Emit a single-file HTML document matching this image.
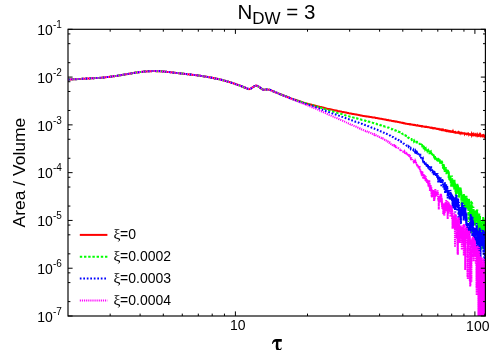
<!DOCTYPE html>
<html><head><meta charset="utf-8"><title>N_DW = 3</title>
<style>
html,body{margin:0;padding:0;background:#fff;}
body{width:500px;height:350px;overflow:hidden;}
svg{display:block;will-change:transform;}
text{font-family:"Liberation Sans",sans-serif;fill:#000;}
.t13{font-size:14px;}
.sy{font-family:'Liberation Serif',serif;font-size:15.5px;}
.c{fill:none;stroke-width:2;stroke-linejoin:miter;stroke-miterlimit:4;}
</style></head><body>
<svg width="500" height="350" viewBox="0 0 500 350">
<rect width="500" height="350" fill="#fff"/>
<defs><clipPath id="cp"><rect x="68.0" y="29.3" width="417.4" height="286.7"/></clipPath></defs>
<g clip-path="url(#cp)">
<path class="c" d="M68.0,79.4 L70.6,79.4 L73.1,79.3 L75.5,79.2 L77.9,79.1 L80.3,78.9 L82.5,78.8 L84.8,78.7 L87.0,78.6 L89.1,78.5 L91.2,78.3 L93.3,78.2 L95.3,78.1 L97.3,78.0 L99.2,77.9 L101.1,77.8 L103.0,77.6 L104.8,77.4 L106.6,77.1 L108.4,76.9 L110.2,76.7 L111.9,76.5 L113.6,76.3 L115.2,76.1 L116.9,75.9 L118.5,75.6 L120.1,75.3 L121.7,75.0 L123.2,74.7 L124.7,74.5 L126.2,74.2 L127.7,73.9 L129.1,73.7 L130.6,73.4 L132.0,73.2 L133.4,73.0 L134.8,72.8 L136.1,72.6 L137.5,72.4 L138.8,72.3 L140.1,72.1 L141.4,71.9 L142.7,71.7 L143.9,71.5 L145.2,71.4 L146.4,71.4 L147.6,71.3 L148.8,71.3 L150.0,71.2 L151.2,71.2 L152.3,71.1 L153.5,71.1 L154.6,71.1 L155.8,71.2 L156.9,71.2 L158.0,71.2 L159.1,71.2 L160.1,71.2 L161.2,71.2 L162.3,71.4 L163.3,71.5 L164.3,71.6 L165.4,71.7 L166.4,71.8 L167.4,71.9 L168.4,72.0 L169.4,72.1 L170.3,72.2 L171.3,72.3 L172.3,72.4 L173.2,72.5 L174.2,72.7 L175.1,72.8 L176.0,72.9 L176.9,73.0 L177.8,73.1 L178.7,73.2 L179.6,73.3 L180.5,73.4 L181.4,73.5 L182.3,73.6 L183.1,73.7 L184.0,73.8 L184.8,73.9 L185.7,74.0 L186.5,74.1 L187.3,74.2 L188.2,74.3 L189.0,74.4 L189.8,74.5 L190.6,74.6 L191.4,74.7 L192.2,74.8 L193.0,74.9 L193.7,75.0 L194.5,75.1 L195.3,75.1 L196.1,75.2 L196.8,75.3 L197.6,75.4 L198.3,75.5 L199.0,75.6 L199.8,75.7 L200.5,75.8 L201.2,75.9 L202.0,76.0 L202.7,76.2 L203.4,76.3 L204.1,76.4 L204.8,76.5 L205.5,76.6 L206.2,76.7 L206.9,76.8 L207.5,77.0 L208.2,77.1 L208.9,77.2 L209.6,77.3 L210.2,77.4 L210.9,77.6 L211.5,77.7 L212.2,77.8 L212.8,78.0 L213.5,78.1 L214.1,78.2 L214.8,78.3 L215.4,78.5 L216.0,78.6 L216.6,78.7 L217.3,78.8 L217.9,79.0 L218.5,79.1 L219.1,79.2 L219.7,79.3 L220.3,79.5 L220.9,79.6 L221.5,79.8 L222.1,80.0 L222.7,80.2 L223.3,80.3 L223.9,80.5 L224.4,80.6 L225.0,80.8 L225.6,81.0 L226.2,81.1 L226.7,81.3 L227.3,81.4 L227.9,81.6 L228.4,81.7 L229.0,81.9 L229.5,82.1 L230.1,82.2 L230.6,82.4 L231.2,82.6 L231.7,82.8 L232.2,82.9 L232.8,83.1 L233.3,83.3 L233.8,83.5 L234.4,83.7 L234.9,83.8 L235.4,84.0 L237.5,84.7 L239.5,85.4 L241.5,86.2 L243.4,87.0 L245.3,87.7 L247.2,88.6 L249.0,89.1 L250.8,88.6 L252.6,87.3 L254.4,86.1 L256.1,85.5 L257.8,86.1 L259.4,87.1 L261.1,88.4 L262.7,89.6 L264.3,89.7 L265.8,89.5 L267.4,89.5 L268.9,89.7 L270.4,90.0 L271.9,90.7 L273.3,91.3 L274.8,92.0 L276.2,92.6 L277.6,93.1 L279.0,93.7 L280.3,94.3 L281.7,94.8 L283.0,95.3 L284.3,95.8 L285.6,96.3 L286.9,96.8 L288.1,97.2 L289.4,97.7 L290.6,98.2 L291.8,98.6 L293.0,99.1 L294.2,99.5 L295.4,99.8 L296.5,100.3 L297.7,100.6 L298.8,101.0 L300.0,101.4 L301.1,101.8 L302.2,102.2 L303.3,102.5 L304.3,102.9 L305.4,103.2 L306.5,103.4 L307.5,103.7 L308.5,104.0 L309.6,104.3 L310.6,104.5 L311.6,104.8 L312.6,105.1 L313.6,105.3 L314.5,105.6 L315.5,105.8 L316.5,106.0 L317.4,106.3 L318.4,106.5 L319.3,106.7 L320.2,106.9 L321.1,107.1 L322.0,107.3 L322.9,107.6 L323.8,107.8 L324.7,108.0 L325.6,108.3 L326.5,108.5 L327.3,108.7 L328.2,108.9 L329.0,109.0 L329.9,109.2 L330.7,109.3 L331.5,109.5 L332.4,109.7 L333.2,109.9 L334.0,110.1 L334.8,110.3 L335.6,110.5 L336.4,110.6 L337.2,110.8 L337.9,111.0 L338.7,111.2 L339.5,111.3 L340.2,111.5 L341.0,111.6 L341.8,111.8 L342.5,111.9 L343.2,112.0 L344.0,112.2 L344.7,112.3 L345.4,112.5 L346.1,112.6 L346.9,112.8 L347.6,113.0 L348.3,113.1 L349.0,113.3 L349.7,113.4 L350.0,113.5 L350.4,113.5 L350.7,113.6 L351.1,113.6 L351.4,113.7 L351.7,113.8 L352.1,113.8 L352.4,113.9 L352.7,113.9 L353.1,114.0 L353.4,114.1 L353.8,114.1 L354.1,114.2 L354.4,114.2 L354.7,114.3 L355.1,114.3 L355.4,114.4 L355.7,114.5 L356.1,114.5 L356.4,114.6 L356.7,114.6 L357.0,114.7 L357.4,114.7 L357.7,114.8 L358.0,114.8 L358.3,114.9 L358.6,115.0 L359.0,115.1 L359.3,115.1 L359.6,115.2 L359.9,115.2 L360.2,115.3 L360.5,115.4 L360.8,115.4 L361.2,115.5 L361.5,115.5 L361.8,115.6 L362.1,115.7 L362.4,115.8 L362.7,115.8 L363.0,115.9 L363.3,115.9 L363.6,115.9 L363.9,116.0 L364.2,116.0 L364.5,116.1 L364.8,116.2 L365.1,116.2 L365.4,116.3 L365.7,116.3 L366.0,116.4 L366.3,116.3 L366.6,116.4 L366.9,116.4 L367.2,116.5 L367.5,116.6 L367.8,116.6 L368.1,116.6 L368.3,116.7 L368.6,116.7 L368.9,116.8 L369.2,116.8 L369.5,116.8 L369.8,116.9 L370.1,116.9 L370.4,117.0 L370.6,117.0 L370.9,117.1 L371.2,117.1 L371.5,117.2 L371.8,117.2 L372.0,117.3 L372.3,117.3 L372.6,117.4 L372.9,117.4 L373.2,117.5 L373.4,117.5 L373.7,117.5 L374.0,117.5 L374.3,117.6 L374.5,117.6 L374.8,117.6 L375.1,117.7 L375.4,117.8 L375.6,117.9 L375.9,117.9 L376.2,118.0 L376.4,118.0 L376.7,118.1 L377.0,118.1 L377.2,118.1 L377.5,118.2 L377.8,118.2 L378.0,118.3 L378.3,118.3 L378.6,118.4 L378.8,118.4 L379.1,118.5 L379.3,118.6 L379.6,118.6 L379.9,118.7 L380.1,118.7 L380.4,118.8 L380.6,118.8 L380.9,118.8 L381.1,118.8 L381.4,118.8 L381.7,118.9 L381.9,119.0 L382.2,119.0 L382.4,119.0 L382.7,119.1 L382.9,119.2 L383.2,119.2 L383.4,119.3 L383.7,119.3 L383.9,119.3 L384.2,119.4 L384.4,119.4 L384.7,119.4 L384.9,119.5 L385.2,119.5 L385.4,119.5 L385.7,119.7 L385.9,119.7 L386.1,119.7 L386.4,119.8 L386.6,119.9 L386.9,119.9 L387.1,119.9 L387.4,119.9 L387.6,119.9 L387.8,120.1 L388.1,120.0 L388.3,120.2 L388.6,120.2 L388.8,120.2 L389.0,120.3 L389.3,120.4 L389.5,120.4 L389.7,120.5 L390.0,120.5 L390.2,120.5 L390.5,120.5 L390.7,120.6 L390.9,120.6 L391.2,120.7 L391.4,120.7 L391.6,120.8 L391.8,120.9 L392.1,120.9 L392.3,121.0 L392.5,121.0 L392.8,121.0 L393.0,121.1 L393.2,121.0 L393.5,121.1 L393.7,121.1 L393.9,121.1 L394.1,121.2 L394.4,121.2 L394.6,121.3 L394.8,121.4 L395.0,121.4 L395.3,121.5 L395.5,121.6 L395.7,121.5 L395.9,121.6 L396.1,121.6 L396.4,121.6 L396.6,121.6 L396.8,121.7 L397.0,121.7 L397.3,121.8 L397.5,121.8 L397.7,121.9 L397.9,121.9 L398.1,122.0 L398.3,122.1 L398.6,122.1 L398.8,122.1 L399.0,122.2 L399.2,122.3 L399.4,122.2 L399.6,122.2 L399.9,122.3 L400.1,122.3 L400.3,122.4 L400.5,122.4 L400.7,122.4 L400.9,122.5 L401.1,122.5 L401.3,122.6 L401.6,122.7 L401.8,122.8 L402.0,122.8 L402.2,122.9 L402.4,122.8 L402.6,122.9 L402.8,122.9 L403.0,122.9 L403.2,123.1 L403.4,123.1 L403.6,123.0 L403.8,123.2 L404.0,123.1 L404.3,123.3 L404.5,123.3 L404.7,123.4 L404.9,123.4 L405.1,123.5 L405.3,123.5 L405.5,123.5 L405.7,123.7 L405.9,123.7 L406.1,123.7 L406.3,123.7 L406.5,123.8 L406.7,123.8 L406.9,123.8 L407.1,123.9 L407.3,124.0 L407.5,123.9 L407.7,123.9 L407.9,124.0 L408.1,124.1 L408.3,124.1 L408.5,124.1 L408.7,124.1 L408.9,124.2 L409.1,124.1 L409.3,124.2 L409.5,124.2 L409.6,124.3 L409.8,124.4 L410.0,124.4 L410.2,124.3 L410.4,124.3 L410.6,124.4 L410.8,124.3 L411.0,124.4 L411.2,124.4 L411.4,124.4 L411.6,124.5 L411.8,124.6 L412.0,124.7 L412.2,124.8 L412.3,124.8 L412.5,124.7 L412.7,124.8 L412.9,124.8 L413.1,124.7 L413.3,124.8 L413.5,124.9 L413.7,124.9 L413.8,125.0 L414.0,125.0 L414.2,125.0 L414.4,124.9 L414.6,125.0 L414.8,125.0 L415.0,125.0 L415.2,125.0 L415.3,125.2 L415.5,125.2 L415.7,125.2 L415.9,125.2 L416.1,125.3 L416.3,125.4 L416.4,125.4 L416.6,125.4 L416.8,125.5 L417.0,125.6 L417.2,125.4 L417.3,125.5 L417.5,125.5 L417.7,125.4 L417.9,125.5 L418.1,125.5 L418.2,125.6 L418.4,125.7 L418.6,125.7 L418.8,125.7 L419.0,125.8 L419.1,125.8 L419.3,125.9 L419.5,125.8 L419.7,125.8 L419.8,126.0 L420.0,126.0 L420.2,126.0 L420.4,126.0 L420.5,126.0 L420.7,126.1 L420.9,126.1 L421.1,126.1 L421.2,126.2 L421.4,126.1 L421.6,126.1 L421.8,126.2 L421.9,126.3 L422.1,126.2 L422.3,126.4 L422.5,126.3 L422.6,126.4 L422.8,126.3 L423.0,126.4 L423.1,126.5 L423.3,126.5 L423.5,126.5 L423.7,126.5 L423.8,126.6 L424.0,126.6 L424.2,126.7 L424.3,126.7 L424.5,126.7 L424.7,126.8 L424.8,126.7 L425.0,126.6 L425.2,126.8 L425.3,126.8 L425.5,126.8 L425.7,126.9 L425.9,126.9 L426.0,126.9 L426.2,127.0 L426.3,127.0 L426.5,126.8 L426.7,126.9 L426.8,126.9 L427.0,127.0 L427.2,127.0 L427.3,127.1 L427.5,127.2 L427.7,127.3 L427.8,127.3 L428.0,127.2 L428.2,127.3 L428.3,127.3 L428.5,127.3 L428.6,127.3 L428.8,127.2 L429.0,127.3 L429.1,127.3 L429.3,127.4 L429.5,127.5 L429.6,127.5 L429.8,127.6 L429.9,127.6 L430.1,127.6 L430.3,127.7 L430.4,127.8 L430.6,127.7 L430.7,127.7 L430.9,127.8 L431.1,127.8 L431.2,127.7 L431.4,127.8 L431.5,127.8 L431.7,127.9 L431.8,127.9 L432.0,127.8 L432.2,128.0 L432.3,127.9 L432.5,127.9 L432.6,128.0 L432.8,128.0 L432.9,128.1 L433.1,128.2 L433.2,128.2 L433.4,128.3 L433.6,128.2 L433.7,128.3 L433.9,128.2 L434.0,128.3 L434.2,128.2 L434.3,128.2 L434.5,128.3 L434.6,128.2 L434.8,128.3 L434.9,128.4 L435.1,128.3 L435.2,128.4 L435.4,128.6 L435.6,128.6 L435.7,128.6 L435.9,128.6 L436.0,128.6 L436.2,128.7 L436.3,128.7 L436.5,128.7 L436.6,128.8 L436.8,128.8 L436.9,128.9 L437.1,128.8 L437.2,128.8 L437.4,128.8 L437.5,128.9 L437.7,128.9 L437.8,129.0 L438.0,129.0 L438.1,129.0 L438.2,129.1 L438.4,129.1 L438.5,129.1 L438.7,129.1 L438.8,129.2 L439.0,129.0 L439.1,129.1 L439.3,129.3 L439.4,129.3 L439.6,129.3 L439.7,129.5 L439.9,129.4 L440.0,129.5 L440.2,129.5 L440.3,129.5 L440.4,129.6 L440.6,129.5 L440.7,129.5 L440.9,129.5 L441.0,129.4 L441.2,129.6 L441.3,129.7 L441.5,129.6 L441.6,129.7 L441.7,129.8 L441.9,130.0 L442.0,129.9 L442.2,129.9 L442.3,129.8 L442.5,129.8 L442.6,129.9 L442.7,129.7 L442.9,129.9 L443.0,130.0 L443.2,130.0 L443.3,130.0 L443.4,130.1 L443.6,130.2 L443.7,130.0 L443.9,130.2 L444.0,130.3 L444.1,130.2 L444.3,130.2 L444.4,130.3 L444.6,130.4 L444.7,130.5 L444.8,130.5 L445.0,130.5 L445.1,130.5 L445.3,130.4 L445.4,130.5 L445.5,130.4 L445.7,130.5 L445.8,130.4 L445.9,130.5 L446.1,130.5 L446.2,130.7 L446.4,130.6 L446.5,130.8 L446.6,130.7 L446.8,130.8 L446.9,130.7 L447.0,130.8 L447.2,130.9 L447.3,130.8 L447.4,130.9 L447.6,130.8 L447.7,130.9 L447.9,130.8 L448.0,130.9 L448.1,131.1 L448.3,131.0 L448.4,131.2 L448.5,131.2 L448.7,131.1 L448.8,131.1 L448.9,131.1 L449.1,131.1 L449.2,131.3 L449.3,131.2 L449.5,131.1 L449.6,131.3 L449.7,131.3 L449.9,131.2 L450.0,131.3 L450.1,131.4 L450.3,131.4 L450.4,131.3 L450.5,131.4 L450.6,131.4 L450.8,131.4 L450.9,131.5 L451.0,131.7 L451.2,131.6 L451.3,131.7 L451.4,131.6 L451.6,131.5 L451.7,131.6 L451.8,131.7 L452.0,131.7 L452.1,131.6 L452.2,131.8 L452.3,131.9 L452.5,131.8 L452.6,131.9 L452.7,131.9 L452.9,131.9 L453.0,131.6 L453.1,131.9 L453.2,131.9 L453.4,132.0 L453.5,131.9 L453.6,132.0 L453.8,132.2 L453.9,132.1 L454.0,132.2 L454.1,132.1 L454.3,132.2 L454.4,132.2 L454.5,132.2 L454.6,132.3 L454.8,132.2 L454.9,132.1 L455.0,132.1 L455.1,132.1 L455.3,132.3 L455.4,132.2 L455.5,132.4 L455.6,132.3 L455.8,132.5 L455.9,132.5 L456.0,132.5 L456.1,132.7 L456.3,132.7 L456.4,132.7 L456.5,132.7 L456.6,132.7 L456.8,132.5 L456.9,132.5 L457.0,132.5 L457.1,132.5 L457.3,132.5 L457.4,132.7 L457.5,132.7 L457.6,132.7 L457.8,132.5 L457.9,132.6 L458.0,132.5 L458.1,132.8 L458.2,132.8 L458.4,132.7 L458.5,132.5 L458.6,132.7 L458.7,132.8 L458.9,133.0 L459.0,132.7 L459.1,132.8 L459.2,132.7 L459.3,132.9 L459.5,132.7 L459.6,132.7 L459.7,133.0 L459.8,132.9 L459.9,132.8 L460.1,132.8 L460.2,133.0 L460.3,133.0 L460.4,133.0 L460.5,133.1 L460.7,133.1 L460.8,133.3 L460.9,133.1 L461.0,133.0 L461.1,133.1 L461.3,132.9 L461.4,132.9 L461.5,132.9 L461.6,133.0 L461.7,132.9 L461.8,133.0 L462.0,133.1 L462.1,133.2 L462.2,133.1 L462.3,133.2 L462.4,133.3 L462.5,133.2 L462.7,133.2 L462.8,133.3 L462.9,133.3 L463.0,133.3 L463.1,133.3 L463.2,133.3 L463.4,133.2 L463.5,133.2 L463.6,133.2 L463.7,133.3 L463.8,133.3 L463.9,133.4 L464.1,133.5 L464.2,133.6 L464.3,133.6 L464.4,133.8 L464.5,133.5 L464.6,133.6 L464.8,133.8 L464.9,133.9 L465.0,133.8 L465.1,133.8 L465.2,133.7 L465.3,133.7 L465.4,133.6 L465.5,133.6 L465.7,133.6 L465.8,133.7 L465.9,133.8 L466.0,133.9 L466.1,134.0 L466.2,134.0 L466.3,133.9 L466.5,133.9 L466.6,134.1 L466.7,134.0 L466.8,134.0 L466.9,133.9 L467.0,133.8 L467.1,134.0 L467.2,134.0 L467.4,134.1 L467.5,134.1 L467.6,134.2 L467.7,134.2 L467.8,134.1 L467.9,134.1 L468.0,134.2 L468.1,134.3 L468.2,134.3 L468.4,134.2 L468.5,134.2 L468.6,134.3 L468.7,133.9 L468.8,134.0 L468.9,134.3 L469.0,134.1 L469.1,134.2 L469.2,134.2 L469.3,134.4 L469.5,134.4 L469.6,134.4 L469.7,134.4 L469.8,134.3 L469.9,134.3 L470.0,134.4 L470.1,134.5 L470.2,134.4 L470.3,134.5 L470.4,134.4 L470.5,134.4 L470.7,134.5 L470.8,134.4 L470.9,134.4 L471.0,134.7 L471.1,134.7 L471.2,134.6 L471.3,134.7 L471.4,134.5 L471.5,134.5 L471.6,134.8 L471.7,134.4 L471.8,134.7 L471.9,134.6 L472.1,134.5 L472.2,134.6 L472.3,134.5 L472.4,134.7 L472.5,134.8 L472.6,134.7 L472.7,134.8 L472.8,134.7 L472.9,134.7 L473.0,134.7 L473.1,134.5 L473.2,134.7 L473.3,134.5 L473.4,134.8 L473.5,134.9 L473.6,134.8 L473.8,134.7 L473.9,134.8 L474.0,134.8 L474.1,134.9 L474.2,134.8 L474.3,134.9 L474.4,134.9 L474.5,134.7 L474.6,134.7 L474.7,134.9 L474.8,134.8 L474.9,134.8 L475.0,134.6 L475.1,134.8 L475.2,134.9 L475.3,135.0 L475.4,135.0 L475.5,135.1 L475.6,134.9 L475.7,134.8 L475.8,135.0 L475.9,134.8 L476.0,134.8 L476.1,135.1 L476.2,135.0 L476.3,135.0 L476.5,135.2 L476.6,135.4 L476.7,135.4 L476.8,135.2 L476.9,135.2 L477.0,135.3 L477.1,135.0 L477.2,135.3 L477.3,135.1 L477.4,135.4 L477.5,135.5 L477.6,135.6 L477.7,135.5 L477.8,135.2 L477.9,135.3 L478.0,135.3 L478.1,135.1 L478.2,135.2 L478.3,135.3 L478.4,135.2 L478.5,135.2 L478.6,135.4 L478.7,135.3 L478.8,135.4 L478.9,135.5 L479.0,135.3 L479.1,135.5 L479.2,135.4 L479.3,135.5 L479.4,135.5 L479.5,135.5 L479.6,135.5 L479.7,135.2 L479.8,135.5 L479.9,135.5 L480.0,135.5 L480.1,135.5 L480.2,135.5 L480.3,135.7 L480.4,135.8 L480.5,136.0 L480.6,135.9 L480.7,135.5 L480.8,135.8 L480.9,135.8 L481.0,135.8 L481.1,135.6 L481.2,135.4 L481.3,135.4 L481.4,135.4 L481.5,135.4 L481.6,135.4 L481.6,135.4 L481.7,135.8 L481.8,135.8 L481.9,135.9 L482.0,135.8 L482.1,136.0 L482.2,136.0 L482.3,135.9 L482.4,136.2 L482.5,136.1 L482.6,136.0 L482.7,135.9 L482.8,135.9 L482.9,135.9 L483.0,135.9 L483.1,135.8 L483.2,135.9 L483.3,135.7 L483.4,135.9 L483.5,135.9 L483.6,136.0 L483.7,136.1 L483.8,135.9 L483.9,136.1 L484.0,136.1 L484.1,136.1 L484.2,135.9 L484.2,136.1 L484.3,136.1 L484.4,136.4 L484.5,136.4 L484.6,136.3 L484.7,135.9 L484.8,136.3 L484.9,136.1 L485.0,136.2 L485.1,136.0 L485.2,136.1 L485.3,136.2" stroke="#f00"/>
<path class="c" d="M68.0,79.4 L70.6,79.4 L73.1,79.3 L75.5,79.2 L77.9,79.1 L80.3,78.9 L82.5,78.8 L84.8,78.7 L87.0,78.6 L89.1,78.5 L91.2,78.3 L93.3,78.2 L95.3,78.1 L97.3,78.0 L99.2,77.9 L101.1,77.7 L103.0,77.6 L104.8,77.4 L106.6,77.1 L108.4,76.9 L110.2,76.7 L111.9,76.5 L113.6,76.3 L115.2,76.1 L116.9,75.8 L118.5,75.6 L120.1,75.3 L121.7,75.0 L123.2,74.7 L124.7,74.5 L126.2,74.2 L127.7,73.9 L129.1,73.7 L130.6,73.4 L132.0,73.2 L133.4,73.0 L134.8,72.8 L136.1,72.6 L137.5,72.5 L138.8,72.3 L140.1,72.1 L141.4,71.9 L142.7,71.7 L143.9,71.5 L145.2,71.4 L146.4,71.4 L147.6,71.3 L148.8,71.3 L150.0,71.2 L151.2,71.2 L152.3,71.1 L153.5,71.1 L154.6,71.1 L155.8,71.1 L156.9,71.2 L158.0,71.2 L159.1,71.2 L160.1,71.2 L161.2,71.3 L162.3,71.4 L163.3,71.5 L164.3,71.6 L165.4,71.7 L166.4,71.8 L167.4,71.9 L168.4,72.0 L169.4,72.1 L170.3,72.2 L171.3,72.3 L172.3,72.5 L173.2,72.5 L174.2,72.7 L175.1,72.8 L176.0,72.9 L176.9,73.0 L177.8,73.1 L178.7,73.2 L179.6,73.3 L180.5,73.4 L181.4,73.5 L182.3,73.6 L183.1,73.7 L184.0,73.8 L184.8,73.9 L185.7,74.0 L186.5,74.1 L187.3,74.2 L188.2,74.3 L189.0,74.4 L189.8,74.5 L190.6,74.6 L191.4,74.7 L192.2,74.8 L193.0,74.9 L193.7,75.0 L194.5,75.1 L195.3,75.1 L196.1,75.2 L196.8,75.3 L197.6,75.4 L198.3,75.5 L199.0,75.6 L199.8,75.7 L200.5,75.8 L201.2,75.9 L202.0,76.0 L202.7,76.1 L203.4,76.3 L204.1,76.4 L204.8,76.5 L205.5,76.7 L206.2,76.8 L206.9,76.9 L207.5,77.0 L208.2,77.1 L208.9,77.2 L209.6,77.3 L210.2,77.4 L210.9,77.6 L211.5,77.7 L212.2,77.8 L212.8,78.0 L213.5,78.1 L214.1,78.3 L214.8,78.4 L215.4,78.5 L216.0,78.6 L216.6,78.7 L217.3,78.9 L217.9,79.0 L218.5,79.1 L219.1,79.2 L219.7,79.4 L220.3,79.5 L220.9,79.6 L221.5,79.8 L222.1,80.0 L222.7,80.1 L223.3,80.3 L223.9,80.5 L224.4,80.6 L225.0,80.8 L225.6,81.0 L226.2,81.1 L226.7,81.3 L227.3,81.4 L227.9,81.6 L228.4,81.7 L229.0,82.0 L229.5,82.1 L230.1,82.3 L230.6,82.4 L231.2,82.6 L231.7,82.8 L232.2,83.0 L232.8,83.2 L233.3,83.3 L233.8,83.5 L234.4,83.7 L234.9,83.9 L235.4,84.0 L237.5,84.7 L239.5,85.4 L241.5,86.2 L243.4,87.0 L245.3,87.7 L247.2,88.6 L249.0,89.1 L250.8,88.6 L252.6,87.3 L254.4,86.1 L256.1,85.5 L257.8,86.1 L259.4,87.2 L261.1,88.4 L262.7,89.6 L264.3,89.7 L265.8,89.5 L267.4,89.4 L268.9,89.6 L270.4,90.0 L271.9,90.7 L273.3,91.3 L274.8,91.9 L276.2,92.6 L277.6,93.2 L279.0,93.8 L280.3,94.3 L281.7,94.8 L283.0,95.3 L284.3,95.8 L285.6,96.3 L286.9,96.8 L288.1,97.3 L289.4,97.8 L290.6,98.3 L291.8,98.7 L293.0,99.2 L294.2,99.6 L295.4,100.0 L296.5,100.4 L297.7,100.8 L298.8,101.2 L300.0,101.5 L301.1,101.9 L302.2,102.2 L303.3,102.6 L304.3,102.9 L305.4,103.2 L306.5,103.6 L307.5,103.9 L308.5,104.2 L309.6,104.5 L310.6,104.7 L311.6,105.0 L312.6,105.3 L313.6,105.5 L314.5,105.8 L315.5,106.0 L316.5,106.3 L317.4,106.6 L318.4,106.9 L319.3,107.1 L320.2,107.4 L321.1,107.8 L322.0,108.1 L322.9,108.4 L323.8,108.7 L324.7,109.0 L325.6,109.2 L326.5,109.6 L327.3,109.8 L328.2,110.0 L329.0,110.3 L329.9,110.5 L330.7,110.8 L331.5,111.1 L332.4,111.3 L333.2,111.6 L334.0,111.8 L334.8,112.1 L335.6,112.4 L336.4,112.6 L337.2,112.9 L337.9,113.1 L338.7,113.3 L339.5,113.5 L340.2,113.7 L341.0,113.9 L341.8,114.1 L342.5,114.3 L343.2,114.6 L344.0,114.8 L344.7,115.1 L345.4,115.3 L346.1,115.5 L346.9,115.7 L347.6,115.9 L348.3,116.1 L349.0,116.4 L349.7,116.5 L350.0,116.6 L350.4,116.8 L350.7,116.8 L351.1,116.9 L351.4,117.0 L351.7,117.1 L352.1,117.1 L352.4,117.3 L352.7,117.3 L353.1,117.4 L353.4,117.5 L353.8,117.6 L354.1,117.7 L354.4,117.9 L354.7,117.9 L355.1,118.0 L355.4,118.0 L355.7,118.2 L356.1,118.3 L356.4,118.3 L356.7,118.5 L357.0,118.4 L357.4,118.5 L357.7,118.7 L358.0,118.7 L358.3,118.8 L358.6,118.9 L359.0,119.0 L359.3,119.1 L359.6,119.1 L359.9,119.2 L360.2,119.2 L360.5,119.4 L360.8,119.6 L361.2,119.6 L361.5,119.7 L361.8,119.7 L362.1,119.9 L362.4,119.9 L362.7,119.9 L363.0,120.0 L363.3,120.0 L363.6,120.1 L363.9,120.2 L364.2,120.3 L364.5,120.5 L364.8,120.6 L365.1,120.6 L365.4,120.8 L365.7,120.9 L366.0,120.9 L366.3,121.1 L366.6,121.0 L366.9,121.0 L367.2,121.2 L367.5,121.3 L367.8,121.3 L368.1,121.4 L368.3,121.6 L368.6,121.7 L368.9,121.6 L369.2,121.7 L369.5,121.8 L369.8,121.9 L370.1,122.1 L370.4,122.1 L370.6,122.2 L370.9,122.3 L371.2,122.5 L371.5,122.6 L371.8,122.7 L372.0,122.7 L372.3,122.7 L372.6,122.8 L372.9,122.9 L373.2,123.0 L373.4,123.1 L373.7,123.0 L374.0,123.1 L374.3,123.3 L374.5,123.3 L374.8,123.3 L375.1,123.5 L375.4,123.5 L375.6,123.5 L375.9,123.6 L376.2,123.7 L376.4,123.8 L376.7,123.9 L377.0,124.2 L377.2,124.1 L377.5,124.2 L377.8,124.3 L378.0,124.3 L378.3,124.5 L378.6,124.6 L378.8,124.7 L379.1,124.7 L379.3,124.8 L379.6,124.9 L379.9,125.1 L380.1,125.0 L380.4,125.2 L380.6,125.2 L380.9,125.2 L381.1,125.4 L381.4,125.4 L381.7,125.5 L381.9,125.6 L382.2,125.7 L382.4,125.8 L382.7,125.9 L382.9,125.9 L383.2,126.0 L383.4,126.2 L383.7,126.1 L383.9,126.2 L384.2,126.2 L384.4,126.3 L384.7,126.4 L384.9,126.6 L385.2,126.7 L385.4,126.7 L385.7,126.7 L385.9,126.9 L386.1,126.9 L386.4,127.1 L386.6,127.1 L386.9,127.3 L387.1,127.3 L387.4,127.4 L387.6,127.4 L387.8,127.5 L388.1,127.5 L388.3,127.5 L388.6,127.5 L388.8,127.7 L389.0,127.8 L389.3,127.9 L389.5,128.0 L389.7,128.1 L390.0,128.2 L390.2,128.4 L390.5,128.5 L390.7,128.6 L390.9,128.6 L391.2,128.7 L391.4,128.8 L391.6,129.1 L391.8,129.0 L392.1,129.0 L392.3,129.1 L392.5,129.2 L392.8,129.2 L393.0,129.3 L393.2,129.4 L393.5,129.5 L393.7,129.6 L393.9,129.7 L394.1,129.7 L394.4,130.0 L394.6,130.1 L394.8,130.1 L395.0,130.4 L395.3,130.3 L395.5,130.4 L395.7,130.6 L395.9,130.6 L396.1,130.7 L396.4,130.8 L396.6,130.9 L396.8,131.0 L397.0,131.0 L397.3,131.0 L397.5,131.3 L397.7,131.3 L397.9,131.4 L398.1,131.4 L398.3,131.7 L398.6,131.6 L398.8,131.8 L399.0,131.9 L399.2,131.9 L399.4,132.0 L399.6,132.1 L399.9,132.1 L400.1,132.3 L400.3,132.2 L400.5,132.3 L400.7,132.6 L400.9,132.7 L401.1,133.0 L401.3,132.9 L401.6,132.9 L401.8,133.3 L402.0,133.5 L402.2,133.5 L402.4,133.7 L402.6,133.7 L402.8,134.1 L403.0,134.2 L403.2,134.3 L403.4,134.2 L403.6,134.2 L403.8,134.3 L404.0,134.4 L404.3,134.7 L404.5,134.8 L404.7,134.9 L404.9,135.2 L405.1,135.4 L405.3,135.2 L405.5,135.3 L405.7,135.4 L405.9,135.8 L406.1,136.0 L406.3,136.1 L406.5,136.0 L406.7,136.2 L406.9,136.6 L407.1,136.4 L407.3,136.8 L407.5,136.9 L407.7,137.1 L407.9,137.4 L408.1,137.5 L408.3,137.6 L408.5,137.9 L408.7,137.8 L408.9,137.8 L409.1,138.1 L409.3,138.2 L409.5,138.4 L409.6,138.6 L409.8,138.7 L410.0,138.6 L410.2,138.7 L410.4,138.6 L410.6,138.6 L410.8,138.9 L411.0,138.9 L411.2,139.1 L411.4,139.3 L411.6,139.7 L411.8,139.5 L412.0,139.8 L412.2,139.7 L412.3,139.8 L412.5,139.7 L412.7,139.6 L412.9,139.6 L413.1,139.7 L413.3,139.8 L413.5,140.2 L413.7,140.5 L413.8,140.4 L414.0,141.2 L414.2,140.9 L414.4,140.9 L414.6,141.1 L414.8,140.8 L415.0,140.9 L415.2,140.8 L415.3,140.9 L415.5,141.4 L415.7,141.2 L415.9,141.2 L416.1,141.6 L416.3,142.0 L416.4,141.9 L416.6,142.1 L416.8,142.3 L417.0,142.4 L417.2,142.4 L417.3,142.3 L417.5,142.8 L417.7,143.0 L417.9,142.9 L418.1,142.9 L418.2,142.9 L418.4,142.8 L418.6,143.1 L418.8,142.9 L419.0,143.2 L419.1,143.3 L419.3,143.6 L419.5,143.7 L419.7,143.7 L419.8,144.1 L420.0,144.2 L420.2,144.4 L420.4,144.6 L420.5,144.9 L420.7,145.2 L420.9,145.4 L421.1,145.2 L421.2,145.3 L421.4,145.5 L421.6,145.1 L421.8,145.4 L421.9,145.5 L421.9,145.5 L422.0,145.5 L422.1,145.8 L422.2,145.7 L422.3,146.1 L422.4,146.5 L422.5,146.1 L422.5,146.2 L422.6,146.5 L422.7,146.5 L422.8,146.9 L422.9,146.6 L423.0,146.8 L423.1,146.8 L423.1,146.7 L423.2,147.5 L423.3,146.8 L423.4,147.2 L423.5,147.0 L423.6,147.2 L423.7,147.2 L423.7,147.3 L423.8,147.8 L423.9,147.3 L424.0,147.7 L424.1,147.6 L424.2,147.8 L424.3,147.9 L424.3,148.0 L424.4,148.2 L424.5,147.9 L424.6,148.1 L424.7,147.7 L424.8,148.2 L424.8,148.9 L424.9,148.5 L425.0,148.4 L425.1,148.5 L425.2,148.1 L425.3,148.9 L425.3,148.9 L425.4,148.7 L425.5,148.8 L425.6,148.5 L425.7,148.4 L425.8,148.9 L425.9,149.1 L425.9,149.3 L426.0,149.4 L426.1,149.7 L426.2,149.6 L426.3,149.6 L426.3,149.8 L426.4,149.7 L426.5,149.9 L426.6,149.7 L426.7,149.9 L426.8,150.3 L426.8,150.4 L426.9,150.0 L427.0,150.4 L427.1,150.5 L427.2,150.4 L427.3,150.6 L427.3,150.4 L427.4,150.8 L427.5,150.6 L427.6,150.5 L427.7,150.5 L427.7,150.7 L427.8,150.8 L427.9,151.3 L428.0,151.7 L428.1,151.1 L428.2,151.1 L428.2,151.1 L428.3,151.1 L428.4,150.9 L428.5,151.2 L428.6,151.2 L428.6,151.8 L428.7,151.4 L428.8,151.7 L428.9,152.1 L429.0,152.0 L429.1,152.5 L429.1,152.9 L429.2,152.9 L429.3,152.4 L429.4,152.8 L429.5,152.9 L429.5,153.3 L429.6,153.3 L429.7,152.6 L429.8,153.1 L429.9,152.4 L429.9,153.1 L430.0,152.9 L430.1,152.3 L430.2,151.7 L430.3,151.7 L430.3,151.9 L430.4,151.9 L430.5,151.8 L430.6,152.0 L430.7,151.9 L430.7,152.0 L430.8,152.3 L430.9,152.9 L431.0,152.8 L431.1,153.1 L431.1,153.0 L431.2,153.3 L431.3,153.2 L431.4,153.9 L431.4,153.6 L431.5,153.3 L431.6,153.5 L431.7,153.9 L431.8,154.3 L431.8,153.9 L431.9,152.9 L432.0,153.7 L432.1,154.2 L432.2,155.2 L432.2,153.9 L432.3,153.6 L432.4,154.3 L432.5,153.7 L432.5,154.5 L432.6,154.6 L432.7,155.1 L432.8,154.5 L432.9,153.8 L432.9,154.6 L433.0,155.0 L433.1,155.7 L433.2,155.0 L433.2,154.0 L433.3,154.7 L433.4,155.9 L433.5,155.2 L433.6,155.0 L433.6,154.9 L433.7,155.1 L433.8,156.1 L433.9,155.6 L433.9,156.7 L434.0,156.9 L434.1,155.7 L434.2,157.6 L434.3,157.8 L434.3,157.8 L434.4,157.3 L434.5,158.1 L434.6,156.8 L434.6,157.8 L434.7,157.6 L434.8,157.2 L434.9,156.8 L434.9,156.4 L435.0,156.0 L435.1,157.8 L435.2,158.3 L435.2,157.1 L435.3,157.7 L435.4,157.8 L435.5,159.8 L435.6,159.8 L435.6,158.8 L435.7,159.1 L435.8,158.0 L435.9,159.1 L435.9,160.3 L436.0,159.1 L436.1,159.1 L436.2,158.2 L436.2,159.0 L436.3,159.0 L436.4,159.5 L436.5,157.8 L436.5,159.6 L436.6,159.7 L436.7,159.4 L436.8,160.2 L436.8,158.9 L436.9,159.4 L437.0,160.2 L437.1,160.6 L437.1,160.0 L437.2,161.5 L437.3,161.2 L437.4,160.8 L437.4,161.1 L437.5,160.0 L437.6,160.4 L437.7,161.7 L437.7,160.0 L437.8,157.8 L437.9,159.5 L438.0,159.5 L438.0,161.3 L438.1,159.3 L438.2,158.4 L438.2,158.7 L438.3,158.7 L438.4,159.1 L438.5,160.0 L438.5,158.7 L438.6,159.6 L438.7,159.7 L438.8,161.5 L438.8,161.0 L438.9,160.2 L439.0,161.0 L439.1,160.3 L439.1,161.3 L439.2,159.7 L439.3,161.9 L439.4,161.4 L439.4,161.5 L439.5,161.8 L439.6,161.2 L439.6,160.7 L439.7,160.6 L439.8,159.2 L439.9,162.2 L439.9,161.5 L440.0,161.2 L440.1,163.6 L440.2,161.4 L440.2,163.5 L440.3,161.1 L440.4,162.0 L440.4,161.8 L440.5,162.7 L440.6,162.1 L440.7,162.8 L440.7,161.8 L440.8,162.0 L440.9,161.7 L441.0,160.7 L441.0,160.7 L441.1,162.0 L441.2,161.4 L441.2,162.8 L441.3,163.2 L441.4,162.9 L441.5,163.1 L441.5,162.5 L441.6,163.1 L441.7,163.7 L441.7,164.0 L441.8,163.7 L441.9,163.1 L442.0,163.4 L442.0,163.4 L442.1,162.3 L442.2,163.5 L442.2,163.4 L442.3,163.2 L442.4,163.9 L442.5,163.5 L442.5,164.4 L442.6,165.4 L442.7,165.9 L442.7,164.6 L442.8,166.1 L442.9,164.1 L442.9,165.9 L443.0,169.0 L443.1,166.8 L443.2,167.5 L443.2,166.6 L443.3,166.3 L443.4,167.6 L443.4,166.2 L443.5,166.9 L443.6,166.9 L443.7,164.9 L443.7,168.1 L443.8,166.7 L443.9,164.3 L443.9,165.2 L444.0,165.8 L444.1,165.6 L444.1,170.1 L444.2,166.6 L444.3,168.9 L444.4,167.3 L444.4,171.1 L444.5,170.6 L444.6,167.7 L444.6,169.2 L444.7,171.1 L444.8,171.1 L444.8,172.6 L444.9,169.0 L445.0,170.6 L445.0,169.7 L445.1,170.5 L445.2,169.9 L445.3,167.3 L445.3,169.2 L445.4,168.6 L445.5,170.0 L445.5,167.5 L445.6,168.5 L445.7,167.7 L445.7,167.2 L445.8,167.9 L445.9,169.0 L445.9,170.4 L446.0,170.2 L446.1,171.1 L446.2,170.3 L446.2,172.2 L446.3,170.7 L446.4,170.5 L446.4,174.2 L446.5,172.8 L446.6,170.4 L446.6,172.4 L446.7,171.2 L446.8,172.0 L446.8,171.4 L446.9,170.3 L447.0,171.4 L447.0,169.6 L447.1,173.6 L447.2,170.4 L447.2,171.2 L447.3,171.7 L447.4,172.7 L447.4,172.2 L447.5,171.9 L447.6,171.6 L447.7,169.7 L447.7,171.4 L447.8,170.0 L447.9,170.8 L447.9,172.6 L448.0,171.6 L448.1,172.9 L448.1,170.0 L448.2,171.8 L448.3,171.4 L448.3,172.0 L448.4,170.4 L448.5,171.6 L448.5,173.8 L448.6,174.1 L448.7,178.3 L448.7,176.5 L448.8,177.5 L448.9,172.3 L448.9,178.0 L449.0,176.0 L449.1,178.6 L449.1,175.9 L449.2,177.4 L449.3,176.2 L449.3,179.3 L449.4,179.4 L449.5,178.7 L449.5,181.1 L449.6,178.9 L449.7,176.3 L449.7,176.8 L449.8,177.9 L449.9,177.0 L449.9,178.3 L450.0,176.1 L450.1,175.5 L450.1,178.9 L450.2,175.6 L450.3,178.5 L450.3,175.2 L450.4,177.3 L450.5,176.8 L450.5,180.2 L450.6,178.0 L450.6,177.9 L450.7,179.8 L450.8,183.6 L450.8,180.8 L450.9,182.2 L451.0,181.1 L451.0,182.7 L451.1,183.6 L451.2,186.8 L451.2,185.0 L451.3,184.5 L451.4,184.4 L451.4,185.1 L451.5,182.6 L451.6,182.1 L451.6,180.4 L451.7,180.5 L451.8,183.8 L451.8,183.2 L451.9,179.6 L452.0,178.3 L452.0,175.5 L452.1,179.5 L452.1,179.9 L452.2,179.0 L452.3,179.4 L452.3,178.7 L452.4,183.3 L452.5,184.3 L452.5,180.2 L452.6,179.7 L452.7,180.7 L452.7,180.8 L452.8,180.2 L452.9,183.5 L452.9,184.5 L453.0,184.5 L453.0,186.8 L453.1,182.3 L453.2,185.9 L453.2,182.4 L453.3,186.7 L453.4,182.4 L453.4,184.8 L453.5,183.4 L453.6,185.3 L453.6,183.0 L453.7,180.1 L453.8,187.8 L453.8,182.9 L453.9,182.7 L453.9,184.1 L454.0,185.3 L454.1,189.4 L454.1,182.5 L454.2,182.8 L454.3,182.1 L454.3,185.0 L454.4,183.5 L454.5,184.5 L454.5,179.7 L454.6,184.4 L454.6,189.0 L454.7,187.1 L454.8,184.4 L454.8,184.9 L454.9,183.2 L455.0,182.3 L455.0,187.6 L455.1,183.6 L455.1,187.7 L455.2,189.0 L455.3,186.0 L455.3,185.3 L455.4,187.5 L455.5,192.9 L455.5,187.9 L455.6,189.0 L455.6,188.4 L455.7,190.8 L455.8,185.7 L455.8,186.2 L455.9,194.2 L456.0,184.5 L456.0,193.1 L456.1,194.8 L456.1,192.7 L456.2,192.0 L456.3,188.8 L456.3,198.5 L456.4,192.1 L456.5,196.4 L456.5,190.5 L456.6,190.7 L456.6,187.6 L456.7,189.8 L456.8,190.4 L456.8,192.9 L456.9,186.0 L457.0,191.2 L457.0,186.4 L457.1,190.4 L457.1,188.8 L457.2,185.0 L457.3,185.5 L457.3,183.0 L457.4,185.8 L457.4,186.3 L457.5,186.5 L457.6,186.4 L457.6,187.9 L457.7,184.5 L457.8,188.7 L457.8,187.8 L457.9,187.7 L457.9,189.4 L458.0,185.5 L458.1,191.3 L458.1,187.3 L458.2,187.7 L458.2,193.8 L458.3,190.2 L458.4,188.9 L458.4,187.5 L458.5,192.4 L458.5,187.3 L458.6,188.9 L458.7,193.6 L458.7,189.8 L458.8,194.9 L458.9,190.4 L458.9,188.3 L459.0,190.6 L459.0,197.6 L459.1,194.3 L459.2,192.2 L459.2,194.1 L459.3,192.4 L459.3,190.1 L459.4,190.1 L459.5,191.6 L459.5,190.7 L459.6,188.6 L459.6,193.4 L459.7,189.5 L459.8,191.2 L459.8,188.0 L459.9,188.5 L459.9,188.7 L460.0,191.1 L460.1,188.9 L460.1,191.6 L460.2,189.4 L460.2,189.5 L460.3,190.2 L460.4,191.2 L460.4,188.6 L460.5,187.4 L460.5,189.7 L460.6,191.5 L460.7,192.9 L460.7,187.7 L460.8,189.7 L460.8,191.2 L460.9,195.7 L461.0,191.9 L461.0,195.0 L461.1,193.3 L461.1,190.5 L461.2,196.4 L461.3,191.8 L461.3,200.6 L461.4,198.0 L461.4,202.8 L461.5,208.5 L461.5,204.5 L461.6,201.4 L461.7,203.7 L461.7,205.3 L461.8,201.0 L461.8,199.5 L461.9,203.5 L462.0,202.7 L462.0,203.4 L462.1,211.6 L462.1,208.9 L462.2,205.0 L462.3,197.5 L462.3,196.8 L462.4,197.6 L462.4,197.2 L462.5,198.5 L462.5,193.9 L462.6,196.5 L462.7,196.1 L462.7,194.3 L462.8,198.0 L462.8,198.1 L462.9,194.5 L463.0,195.8 L463.0,195.1 L463.1,194.5 L463.1,201.4 L463.2,197.2 L463.2,209.1 L463.3,195.2 L463.4,198.1 L463.4,198.1 L463.5,195.6 L463.5,197.4 L463.6,196.7 L463.7,198.3 L463.7,199.8 L463.8,201.1 L463.8,196.5 L463.9,197.1 L463.9,193.8 L464.0,199.2 L464.1,196.1 L464.1,195.6 L464.2,198.0 L464.2,199.1 L464.3,203.3 L464.3,198.1 L464.4,196.5 L464.5,202.4 L464.5,200.1 L464.6,195.7 L464.6,201.9 L464.7,203.9 L464.8,205.6 L464.8,200.3 L464.9,210.3 L464.9,207.6 L465.0,207.6 L465.0,201.1 L465.1,202.1 L465.2,200.8 L465.2,198.2 L465.3,202.4 L465.3,197.7 L465.4,198.8 L465.4,207.6 L465.5,203.7 L465.5,201.6 L465.6,203.9 L465.7,206.7 L465.7,206.1 L465.8,206.4 L465.8,201.7 L465.9,201.3 L465.9,208.2 L466.0,199.8 L466.1,198.1 L466.1,200.8 L466.2,204.3 L466.2,197.7 L466.3,204.7 L466.3,197.1 L466.4,200.2 L466.5,205.0 L466.5,195.7 L466.6,197.9 L466.6,199.8 L466.7,201.7 L466.7,197.8 L466.8,202.3 L466.9,198.0 L466.9,202.6 L467.0,202.6 L467.0,205.0 L467.1,200.0 L467.1,201.6 L467.2,204.6 L467.2,207.2 L467.3,202.1 L467.4,200.8 L467.4,198.8 L467.5,200.9 L467.5,204.4 L467.6,203.2 L467.6,204.4 L467.7,208.5 L467.7,205.8 L467.8,203.1 L467.9,204.7 L467.9,204.8 L468.0,205.5 L468.0,205.0 L468.1,209.3 L468.1,201.5 L468.2,208.8 L468.2,207.5 L468.3,203.6 L468.4,222.1 L468.4,218.6 L468.5,207.5 L468.5,215.5 L468.6,211.8 L468.6,218.2 L468.7,218.1 L468.7,205.8 L468.8,210.0 L468.9,206.4 L468.9,204.5 L469.0,205.9 L469.0,198.9 L469.1,201.8 L469.1,199.0 L469.2,205.3 L469.2,207.2 L469.3,203.8 L469.3,207.0 L469.4,207.0 L469.5,202.3 L469.5,206.0 L469.6,204.6 L469.6,201.4 L469.7,206.7 L469.7,207.2 L469.8,207.5 L469.8,216.2 L469.9,209.3 L470.0,210.7 L470.0,215.2 L470.1,214.8 L470.1,218.4 L470.2,214.1 L470.2,225.6 L470.3,215.1 L470.3,213.6 L470.4,214.5 L470.4,211.6 L470.5,213.9 L470.5,215.4 L470.6,217.7 L470.7,211.0 L470.7,212.4 L470.8,212.4 L470.8,212.4 L470.9,207.0 L470.9,215.0 L471.0,210.0 L471.0,201.5 L471.1,206.9 L471.1,216.8 L471.2,213.3 L471.3,226.6 L471.3,214.2 L471.4,217.0 L471.4,209.5 L471.5,231.4 L471.5,214.0 L471.6,224.8 L471.6,233.0 L471.7,217.7 L471.7,207.2 L471.8,226.0 L471.8,208.3 L471.9,206.1 L471.9,202.7 L472.0,202.8 L472.1,207.0 L472.1,204.6 L472.2,203.0 L472.2,203.1 L472.3,204.2 L472.3,205.0 L472.4,211.1 L472.4,211.8 L472.5,218.0 L472.5,215.7 L472.6,216.9 L472.6,211.7 L472.7,220.5 L472.7,215.2 L472.8,213.8 L472.9,217.0 L472.9,221.1 L473.0,214.9 L473.0,212.1 L473.1,209.1 L473.1,214.4 L473.2,213.2 L473.2,218.5 L473.3,212.1 L473.3,212.8 L473.4,206.7 L473.4,214.4 L473.5,213.0 L473.5,215.1 L473.6,219.7 L473.6,208.6 L473.7,219.0 L473.8,211.0 L473.8,212.7 L473.9,223.2 L473.9,223.3 L474.0,216.0 L474.0,220.5 L474.1,218.6 L474.1,218.8 L474.2,212.1 L474.2,216.4 L474.3,215.1 L474.3,217.9 L474.4,217.4 L474.4,213.2 L474.5,224.4 L474.5,217.7 L474.6,219.1 L474.6,217.1 L474.7,220.5 L474.7,221.7 L474.8,216.3 L474.9,220.1 L474.9,220.4 L475.0,219.8 L475.0,225.7 L475.1,222.2 L475.1,217.2 L475.2,213.7 L475.2,213.2 L475.3,213.9 L475.3,211.0 L475.4,212.5 L475.4,214.5 L475.5,211.6 L475.5,210.5 L475.6,215.5 L475.6,213.4 L475.7,217.4 L475.7,215.9 L475.8,214.0 L475.8,223.9 L475.9,216.2 L475.9,214.0 L476.0,221.6 L476.0,219.7 L476.1,218.6 L476.1,216.6 L476.2,220.2 L476.2,221.7 L476.3,210.0 L476.3,218.7 L476.4,214.7 L476.5,216.1 L476.5,216.1 L476.6,217.2 L476.6,216.4 L476.7,212.1 L476.7,213.2 L476.8,209.2 L476.8,217.9 L476.9,212.9 L476.9,214.5 L477.0,211.3 L477.0,209.1 L477.1,216.4 L477.1,212.7 L477.2,212.8 L477.2,212.9 L477.3,209.4 L477.3,215.7 L477.4,218.5 L477.4,222.2 L477.5,218.1 L477.5,218.6 L477.6,219.3 L477.6,218.0 L477.7,220.7 L477.7,221.6 L477.8,222.8 L477.8,222.2 L477.9,223.6 L477.9,223.7 L478.0,227.4 L478.0,222.0 L478.1,224.8 L478.1,237.0 L478.2,228.4 L478.2,232.2 L478.3,221.8 L478.3,214.3 L478.4,227.9 L478.4,223.6 L478.5,214.4 L478.5,218.9 L478.6,223.2 L478.6,229.3 L478.7,233.5 L478.7,218.3 L478.8,220.7 L478.8,225.9 L478.9,214.1 L478.9,218.9 L479.0,226.0 L479.0,219.5 L479.1,220.2 L479.1,215.4 L479.2,217.9 L479.2,218.5 L479.3,213.5 L479.3,224.5 L479.4,223.3 L479.4,228.6 L479.5,222.0 L479.5,219.8 L479.6,221.3 L479.6,223.1 L479.7,218.9 L479.7,224.9 L479.8,225.5 L479.8,221.2 L479.9,220.9 L479.9,220.9 L480.0,221.5 L480.0,215.5 L480.1,227.5 L480.1,221.8 L480.2,225.7 L480.2,224.9 L480.3,234.5 L480.3,232.2 L480.4,239.5 L480.4,242.8 L480.5,230.2 L480.5,245.1 L480.6,236.8 L480.6,226.4 L480.7,230.0 L480.7,230.0 L480.8,236.6 L480.8,241.8 L480.9,236.7 L480.9,235.1 L481.0,236.0 L481.0,236.8 L481.1,232.9 L481.1,235.1 L481.2,245.6 L481.2,234.1 L481.3,236.5 L481.3,226.9 L481.4,224.6 L481.4,228.5 L481.5,224.0 L481.5,235.7 L481.6,226.8 L481.6,225.5 L481.6,231.6 L481.7,222.0 L481.7,250.3 L481.8,233.7 L481.8,224.7 L481.9,220.6 L481.9,233.1 L482.0,230.9 L482.0,227.3 L482.1,240.3 L482.1,238.3 L482.2,235.3 L482.2,230.3 L482.3,228.6 L482.3,244.0 L482.4,234.8 L482.4,248.0 L482.5,234.0 L482.5,241.5 L482.6,234.1 L482.6,230.8 L482.7,229.9 L482.7,225.0 L482.8,238.7 L482.8,223.9 L482.9,221.5 L482.9,220.7 L483.0,219.4 L483.0,222.6 L483.1,219.7 L483.1,219.5 L483.1,217.0 L483.2,218.7 L483.2,219.4 L483.3,220.4 L483.3,217.7 L483.4,220.4 L483.4,217.4 L483.5,221.0 L483.5,224.0 L483.6,231.2 L483.6,232.8 L483.7,227.2 L483.7,230.3 L483.8,243.5 L483.8,227.0 L483.9,248.1 L483.9,224.0 L484.0,233.5 L484.0,224.3 L484.1,230.0 L484.1,227.9 L484.2,229.1 L484.2,234.8 L484.2,233.7 L484.3,232.8 L484.3,223.3 L484.4,227.4 L484.4,226.5 L484.5,226.8 L484.5,221.3 L484.6,229.9 L484.6,224.5 L484.7,228.7 L484.7,229.2 L484.8,222.8 L484.8,228.1 L484.9,224.7 L484.9,223.9 L485.0,222.4 L485.0,230.0 L485.1,219.5 L485.1,226.7 L485.1,225.5 L485.2,221.4 L485.2,227.1 L485.3,222.2 L485.3,224.6" stroke="#0f0" stroke-dasharray="2.4 1.8"/>
<path class="c" d="M68.0,79.4 L70.6,79.4 L73.1,79.3 L75.5,79.2 L77.9,79.1 L80.3,78.9 L82.5,78.8 L84.8,78.7 L87.0,78.5 L89.1,78.4 L91.2,78.3 L93.3,78.2 L95.3,78.1 L97.3,78.0 L99.2,77.8 L101.1,77.7 L103.0,77.6 L104.8,77.4 L106.6,77.1 L108.4,76.9 L110.2,76.7 L111.9,76.5 L113.6,76.3 L115.2,76.1 L116.9,75.8 L118.5,75.6 L120.1,75.3 L121.7,75.0 L123.2,74.7 L124.7,74.4 L126.2,74.2 L127.7,73.9 L129.1,73.7 L130.6,73.4 L132.0,73.2 L133.4,73.0 L134.8,72.8 L136.1,72.6 L137.5,72.4 L138.8,72.2 L140.1,72.0 L141.4,71.9 L142.7,71.7 L143.9,71.5 L145.2,71.4 L146.4,71.4 L147.6,71.3 L148.8,71.3 L150.0,71.2 L151.2,71.2 L152.3,71.1 L153.5,71.1 L154.6,71.1 L155.8,71.1 L156.9,71.1 L158.0,71.1 L159.1,71.1 L160.1,71.2 L161.2,71.2 L162.3,71.4 L163.3,71.5 L164.3,71.6 L165.4,71.7 L166.4,71.8 L167.4,71.9 L168.4,72.0 L169.4,72.1 L170.3,72.2 L171.3,72.3 L172.3,72.4 L173.2,72.6 L174.2,72.7 L175.1,72.8 L176.0,72.9 L176.9,73.0 L177.8,73.1 L178.7,73.2 L179.6,73.3 L180.5,73.4 L181.4,73.5 L182.3,73.6 L183.1,73.7 L184.0,73.8 L184.8,73.9 L185.7,74.0 L186.5,74.1 L187.3,74.2 L188.2,74.3 L189.0,74.4 L189.8,74.4 L190.6,74.5 L191.4,74.6 L192.2,74.7 L193.0,74.8 L193.7,74.9 L194.5,75.0 L195.3,75.1 L196.1,75.3 L196.8,75.3 L197.6,75.4 L198.3,75.5 L199.0,75.6 L199.8,75.7 L200.5,75.8 L201.2,75.9 L202.0,76.1 L202.7,76.2 L203.4,76.3 L204.1,76.4 L204.8,76.5 L205.5,76.7 L206.2,76.7 L206.9,76.8 L207.5,77.0 L208.2,77.1 L208.9,77.2 L209.6,77.3 L210.2,77.5 L210.9,77.6 L211.5,77.7 L212.2,77.9 L212.8,78.0 L213.5,78.1 L214.1,78.2 L214.8,78.4 L215.4,78.5 L216.0,78.6 L216.6,78.7 L217.3,78.8 L217.9,79.0 L218.5,79.1 L219.1,79.2 L219.7,79.3 L220.3,79.5 L220.9,79.6 L221.5,79.8 L222.1,80.0 L222.7,80.1 L223.3,80.3 L223.9,80.5 L224.4,80.6 L225.0,80.8 L225.6,80.9 L226.2,81.1 L226.7,81.3 L227.3,81.5 L227.9,81.6 L228.4,81.8 L229.0,81.9 L229.5,82.1 L230.1,82.2 L230.6,82.4 L231.2,82.6 L231.7,82.8 L232.2,83.0 L232.8,83.1 L233.3,83.3 L233.8,83.5 L234.4,83.7 L234.9,83.9 L235.4,84.1 L237.5,84.8 L239.5,85.4 L241.5,86.2 L243.4,87.0 L245.3,87.7 L247.2,88.6 L249.0,89.0 L250.8,88.6 L252.6,87.3 L254.4,86.1 L256.1,85.5 L257.8,86.2 L259.4,87.1 L261.1,88.4 L262.7,89.6 L264.3,89.7 L265.8,89.5 L267.4,89.4 L268.9,89.6 L270.4,90.0 L271.9,90.6 L273.3,91.3 L274.8,91.9 L276.2,92.5 L277.6,93.1 L279.0,93.7 L280.3,94.4 L281.7,94.9 L283.0,95.4 L284.3,95.9 L285.6,96.4 L286.9,96.8 L288.1,97.4 L289.4,97.8 L290.6,98.3 L291.8,98.8 L293.0,99.2 L294.2,99.7 L295.4,100.1 L296.5,100.6 L297.7,101.0 L298.8,101.4 L300.0,101.8 L301.1,102.2 L302.2,102.6 L303.3,103.0 L304.3,103.4 L305.4,103.8 L306.5,104.1 L307.5,104.5 L308.5,104.9 L309.6,105.2 L310.6,105.5 L311.6,105.9 L312.6,106.2 L313.6,106.5 L314.5,106.9 L315.5,107.2 L316.5,107.5 L317.4,107.9 L318.4,108.3 L319.3,108.6 L320.2,109.0 L321.1,109.3 L322.0,109.7 L322.9,110.0 L323.8,110.4 L324.7,110.7 L325.6,111.0 L326.5,111.4 L327.3,111.7 L328.2,112.0 L329.0,112.2 L329.9,112.6 L330.7,112.9 L331.5,113.1 L332.4,113.4 L333.2,113.7 L334.0,114.0 L334.8,114.3 L335.6,114.5 L336.4,114.8 L337.2,115.1 L337.9,115.3 L338.7,115.6 L339.5,115.9 L340.2,116.2 L341.0,116.4 L341.8,116.7 L342.5,116.9 L343.2,117.2 L344.0,117.5 L344.7,117.7 L345.4,118.0 L346.1,118.3 L346.9,118.6 L347.6,118.8 L348.3,119.0 L349.0,119.3 L349.7,119.6 L350.0,119.7 L350.4,119.8 L350.7,120.0 L351.1,120.1 L351.4,120.2 L351.7,120.2 L352.1,120.3 L352.4,120.5 L352.7,120.6 L353.1,120.7 L353.4,120.8 L353.8,120.9 L354.1,121.0 L354.4,121.2 L354.7,121.4 L355.1,121.4 L355.4,121.6 L355.7,121.7 L356.1,121.8 L356.4,121.8 L356.7,122.0 L357.0,122.1 L357.4,122.2 L357.7,122.4 L358.0,122.5 L358.3,122.5 L358.6,122.8 L359.0,122.8 L359.3,123.0 L359.6,123.0 L359.9,123.2 L360.2,123.3 L360.5,123.4 L360.8,123.5 L361.2,123.6 L361.5,123.7 L361.8,123.7 L362.1,123.9 L362.4,123.9 L362.7,124.1 L363.0,124.3 L363.3,124.4 L363.6,124.5 L363.9,124.5 L364.2,124.6 L364.5,124.8 L364.8,124.8 L365.1,125.0 L365.4,125.1 L365.7,125.2 L366.0,125.2 L366.3,125.4 L366.6,125.5 L366.9,125.6 L367.2,125.8 L367.5,125.9 L367.8,126.1 L368.1,126.2 L368.3,126.2 L368.6,126.3 L368.9,126.4 L369.2,126.6 L369.5,126.7 L369.8,126.8 L370.1,126.9 L370.4,127.0 L370.6,127.1 L370.9,127.3 L371.2,127.4 L371.5,127.5 L371.8,127.6 L372.0,127.8 L372.3,127.8 L372.6,127.9 L372.9,128.0 L373.2,128.1 L373.4,128.3 L373.7,128.4 L374.0,128.5 L374.3,128.5 L374.5,128.8 L374.8,128.8 L375.1,128.9 L375.4,129.0 L375.6,129.1 L375.9,129.2 L376.2,129.4 L376.4,129.4 L376.7,129.6 L377.0,129.7 L377.2,129.7 L377.5,129.9 L377.8,130.0 L378.0,130.2 L378.3,130.2 L378.6,130.4 L378.8,130.6 L379.1,130.6 L379.3,130.7 L379.6,130.8 L379.9,130.8 L380.1,130.9 L380.4,131.1 L380.6,131.2 L380.9,131.4 L381.1,131.6 L381.4,131.6 L381.7,131.7 L381.9,131.7 L382.2,131.8 L382.4,132.1 L382.7,132.1 L382.9,132.2 L383.2,132.4 L383.4,132.6 L383.7,132.6 L383.9,132.7 L384.2,132.9 L384.4,133.0 L384.7,133.2 L384.9,133.2 L385.2,133.3 L385.4,133.5 L385.7,133.4 L385.9,133.6 L386.1,133.7 L386.4,133.7 L386.6,133.7 L386.9,133.9 L387.1,134.0 L387.4,134.2 L387.6,134.3 L387.8,134.4 L388.1,134.5 L388.3,134.7 L388.6,134.8 L388.8,134.8 L389.0,134.9 L389.3,135.1 L389.5,135.2 L389.7,135.4 L390.0,135.4 L390.2,135.6 L390.5,135.7 L390.7,136.0 L390.9,136.1 L391.2,136.3 L391.4,136.4 L391.6,136.6 L391.8,136.5 L392.1,136.7 L392.3,136.8 L392.5,136.9 L392.8,137.0 L393.0,137.0 L393.2,137.1 L393.5,137.3 L393.7,137.5 L393.9,137.9 L394.1,137.9 L394.4,137.9 L394.6,138.1 L394.8,138.2 L395.0,138.3 L395.3,138.6 L395.5,138.7 L395.7,138.7 L395.9,138.9 L396.1,138.8 L396.4,139.0 L396.6,139.0 L396.8,139.2 L397.0,139.3 L397.3,139.4 L397.5,139.6 L397.7,139.5 L397.9,139.6 L398.1,139.7 L398.3,140.1 L398.6,140.1 L398.8,140.3 L399.0,140.3 L399.2,140.5 L399.4,140.7 L399.6,140.8 L399.9,140.9 L400.1,141.2 L400.3,141.2 L400.5,141.5 L400.7,141.4 L400.9,141.5 L401.1,141.6 L401.3,141.8 L401.6,142.0 L401.8,142.1 L402.0,142.1 L402.2,142.1 L402.4,142.2 L402.6,142.3 L402.8,142.4 L403.0,142.7 L403.2,142.9 L403.4,143.4 L403.6,143.4 L403.8,143.8 L404.0,143.8 L404.3,143.9 L404.5,144.1 L404.7,144.1 L404.9,144.2 L405.1,144.3 L405.3,144.4 L405.5,144.5 L405.7,144.6 L405.9,144.8 L406.1,145.2 L406.3,145.4 L406.5,145.6 L406.7,145.4 L406.9,145.4 L407.1,145.8 L407.3,145.7 L407.5,145.9 L407.7,145.9 L407.9,146.3 L408.1,146.2 L408.3,146.3 L408.5,146.7 L408.7,146.4 L408.9,146.7 L409.1,146.7 L409.3,146.8 L409.5,147.0 L409.6,146.9 L409.8,147.5 L410.0,147.6 L410.2,147.9 L410.4,148.1 L410.6,148.6 L410.8,148.2 L411.0,148.6 L411.2,148.6 L411.4,148.7 L411.6,148.8 L411.8,148.7 L412.0,148.9 L412.2,148.9 L412.3,149.0 L412.5,149.1 L412.7,149.3 L412.9,149.6 L413.1,149.8 L413.3,150.1 L413.5,149.8 L413.7,150.5 L413.8,150.2 L414.0,150.6 L414.2,150.5 L414.4,150.7 L414.6,151.0 L414.8,151.6 L415.0,152.0 L415.2,151.6 L415.3,152.5 L415.5,152.8 L415.7,152.7 L415.9,152.7 L416.1,152.9 L416.3,152.7 L416.4,152.5 L416.6,153.3 L416.8,152.4 L417.0,153.3 L417.2,153.3 L417.3,154.1 L417.5,153.2 L417.7,153.6 L417.9,154.0 L418.1,153.4 L418.2,154.0 L418.4,154.1 L418.6,154.0 L418.8,154.1 L419.0,154.9 L419.1,155.4 L419.3,155.1 L419.5,155.9 L419.7,155.6 L419.8,155.7 L420.0,155.4 L420.2,155.5 L420.4,155.3 L420.5,155.9 L420.7,155.6 L420.9,157.0 L421.1,157.9 L421.2,158.0 L421.4,158.4 L421.6,158.6 L421.8,158.4 L421.9,158.0 L421.9,157.5 L422.0,157.8 L422.1,158.1 L422.2,157.5 L422.3,158.0 L422.4,159.7 L422.5,159.4 L422.5,159.3 L422.6,159.4 L422.7,159.2 L422.8,159.7 L422.9,159.4 L423.0,159.2 L423.1,159.8 L423.1,160.0 L423.2,160.0 L423.3,160.5 L423.4,160.5 L423.5,161.2 L423.6,161.9 L423.7,161.6 L423.7,162.2 L423.8,162.4 L423.9,161.8 L424.0,161.1 L424.1,162.5 L424.2,162.6 L424.3,162.7 L424.3,162.9 L424.4,163.7 L424.5,163.9 L424.6,162.7 L424.7,163.5 L424.8,164.2 L424.8,164.1 L424.9,164.5 L425.0,164.0 L425.1,163.8 L425.2,164.8 L425.3,163.6 L425.3,163.0 L425.4,162.3 L425.5,162.7 L425.6,163.4 L425.7,163.0 L425.8,163.4 L425.9,164.0 L425.9,163.7 L426.0,163.2 L426.1,163.3 L426.2,164.4 L426.3,164.6 L426.3,166.0 L426.4,164.7 L426.5,165.5 L426.6,165.5 L426.7,166.1 L426.8,164.4 L426.8,166.2 L426.9,165.6 L427.0,166.1 L427.1,163.7 L427.2,166.9 L427.3,164.8 L427.3,166.5 L427.4,165.1 L427.5,164.7 L427.6,166.0 L427.7,165.7 L427.7,166.2 L427.8,165.8 L427.9,165.4 L428.0,165.1 L428.1,167.4 L428.2,168.4 L428.2,166.0 L428.3,167.8 L428.4,167.2 L428.5,169.2 L428.6,167.9 L428.6,168.3 L428.7,167.8 L428.8,168.2 L428.9,166.8 L429.0,167.5 L429.1,166.7 L429.1,165.4 L429.2,168.1 L429.3,167.9 L429.4,167.6 L429.5,168.6 L429.5,169.9 L429.6,169.5 L429.7,169.6 L429.8,169.4 L429.9,170.0 L429.9,168.8 L430.0,169.2 L430.1,169.4 L430.2,169.6 L430.3,169.3 L430.3,168.6 L430.4,168.4 L430.5,168.1 L430.6,168.0 L430.7,167.6 L430.7,167.5 L430.8,168.0 L430.9,167.4 L431.0,168.0 L431.1,167.5 L431.1,168.7 L431.2,167.3 L431.3,167.3 L431.4,167.6 L431.4,167.8 L431.5,168.4 L431.6,168.5 L431.7,168.6 L431.8,169.5 L431.8,169.5 L431.9,169.8 L432.0,171.1 L432.1,170.2 L432.2,170.5 L432.2,169.7 L432.3,171.4 L432.4,171.2 L432.5,173.2 L432.5,171.3 L432.6,171.1 L432.7,170.5 L432.8,171.1 L432.9,172.8 L432.9,171.8 L433.0,171.9 L433.1,174.4 L433.2,173.8 L433.2,173.5 L433.3,173.6 L433.4,172.4 L433.5,171.3 L433.6,172.8 L433.6,172.1 L433.7,172.5 L433.8,171.7 L433.9,172.3 L433.9,172.3 L434.0,172.2 L434.1,170.9 L434.2,171.7 L434.3,171.6 L434.3,174.1 L434.4,171.3 L434.5,172.0 L434.6,172.9 L434.6,171.5 L434.7,173.5 L434.8,173.5 L434.9,172.5 L434.9,174.7 L435.0,175.8 L435.1,175.2 L435.2,173.5 L435.2,174.9 L435.3,174.2 L435.4,173.7 L435.5,175.8 L435.6,174.1 L435.6,174.0 L435.7,174.0 L435.8,172.9 L435.9,176.0 L435.9,174.7 L436.0,175.1 L436.1,174.3 L436.2,174.8 L436.2,175.4 L436.3,175.0 L436.4,173.6 L436.5,175.4 L436.5,173.2 L436.6,175.0 L436.7,173.1 L436.8,173.6 L436.8,175.7 L436.9,174.2 L437.0,174.5 L437.1,175.3 L437.1,178.0 L437.2,176.5 L437.3,175.0 L437.4,173.9 L437.4,176.2 L437.5,175.3 L437.6,173.2 L437.7,174.8 L437.7,177.7 L437.8,176.1 L437.9,175.1 L438.0,178.4 L438.0,178.7 L438.1,178.7 L438.2,180.3 L438.2,182.5 L438.3,180.4 L438.4,182.1 L438.5,180.0 L438.5,180.7 L438.6,180.0 L438.7,178.3 L438.8,179.5 L438.8,176.6 L438.9,178.2 L439.0,177.6 L439.1,177.7 L439.1,178.7 L439.2,179.3 L439.3,179.8 L439.4,182.0 L439.4,182.0 L439.5,177.1 L439.6,180.1 L439.6,180.0 L439.7,180.3 L439.8,178.0 L439.9,181.2 L439.9,177.6 L440.0,179.1 L440.1,179.0 L440.2,179.3 L440.2,180.2 L440.3,182.1 L440.4,180.2 L440.4,182.4 L440.5,180.2 L440.6,179.4 L440.7,180.0 L440.7,183.4 L440.8,183.2 L440.9,180.6 L441.0,177.4 L441.0,180.4 L441.1,183.1 L441.2,181.7 L441.2,180.2 L441.3,182.4 L441.4,187.2 L441.5,183.0 L441.5,180.1 L441.6,179.3 L441.7,180.9 L441.7,179.1 L441.8,180.0 L441.9,180.3 L442.0,182.3 L442.0,180.1 L442.1,179.9 L442.2,178.9 L442.2,183.1 L442.3,180.8 L442.4,180.8 L442.5,183.7 L442.5,182.2 L442.6,180.1 L442.7,182.2 L442.7,180.2 L442.8,179.7 L442.9,181.7 L442.9,184.0 L443.0,184.5 L443.1,183.4 L443.2,182.9 L443.2,187.6 L443.3,185.2 L443.4,184.0 L443.4,184.5 L443.5,183.8 L443.6,182.9 L443.7,184.9 L443.7,185.0 L443.8,184.1 L443.9,184.6 L443.9,185.1 L444.0,185.3 L444.1,187.2 L444.1,186.2 L444.2,183.9 L444.3,186.3 L444.4,186.0 L444.4,189.1 L444.5,183.8 L444.6,190.0 L444.6,187.6 L444.7,183.1 L444.8,187.9 L444.8,187.7 L444.9,186.1 L445.0,182.2 L445.0,186.1 L445.1,193.6 L445.2,186.7 L445.3,187.6 L445.3,188.3 L445.4,186.4 L445.5,189.7 L445.5,190.7 L445.6,190.8 L445.7,190.9 L445.7,189.6 L445.8,190.7 L445.9,186.2 L445.9,188.9 L446.0,187.6 L446.1,187.2 L446.2,184.3 L446.2,192.1 L446.3,187.1 L446.4,188.9 L446.4,190.2 L446.5,188.8 L446.6,188.4 L446.6,188.7 L446.7,189.7 L446.8,189.2 L446.8,187.5 L446.9,189.8 L447.0,188.3 L447.0,190.3 L447.1,188.4 L447.2,193.1 L447.2,185.4 L447.3,190.8 L447.4,189.6 L447.4,188.1 L447.5,190.3 L447.6,197.0 L447.7,198.4 L447.7,196.9 L447.8,191.0 L447.9,195.8 L447.9,192.7 L448.0,196.9 L448.1,193.4 L448.1,191.8 L448.2,194.5 L448.3,191.6 L448.3,191.9 L448.4,190.5 L448.5,193.8 L448.5,193.4 L448.6,190.5 L448.7,193.8 L448.7,189.9 L448.8,195.5 L448.9,192.1 L448.9,192.5 L449.0,192.2 L449.1,197.1 L449.1,194.0 L449.2,192.7 L449.3,190.3 L449.3,191.6 L449.4,194.5 L449.5,193.1 L449.5,194.9 L449.6,194.0 L449.7,198.7 L449.7,198.1 L449.8,199.6 L449.9,192.0 L449.9,191.7 L450.0,197.4 L450.1,198.5 L450.1,196.2 L450.2,197.5 L450.3,198.2 L450.3,195.0 L450.4,189.9 L450.5,192.0 L450.5,192.5 L450.6,192.9 L450.6,197.9 L450.7,198.0 L450.8,193.2 L450.8,199.8 L450.9,194.4 L451.0,198.0 L451.0,193.4 L451.1,194.4 L451.2,193.2 L451.2,196.1 L451.3,194.5 L451.4,198.7 L451.4,196.7 L451.5,198.0 L451.6,196.1 L451.6,195.1 L451.7,196.9 L451.8,197.0 L451.8,195.8 L451.9,197.6 L452.0,197.4 L452.0,195.7 L452.1,196.3 L452.1,194.4 L452.2,200.6 L452.3,200.2 L452.3,195.0 L452.4,199.6 L452.5,200.0 L452.5,206.3 L452.6,197.0 L452.7,201.7 L452.7,204.0 L452.8,199.0 L452.9,198.4 L452.9,202.7 L453.0,201.2 L453.0,205.2 L453.1,198.5 L453.2,208.7 L453.2,195.7 L453.3,199.5 L453.4,200.5 L453.4,197.5 L453.5,201.4 L453.6,206.4 L453.6,201.9 L453.7,203.4 L453.8,199.4 L453.8,197.5 L453.9,197.1 L453.9,202.7 L454.0,199.4 L454.1,201.3 L454.1,205.7 L454.2,199.8 L454.3,197.1 L454.3,204.2 L454.4,203.7 L454.5,204.7 L454.5,203.6 L454.6,204.5 L454.6,201.8 L454.7,208.0 L454.8,209.3 L454.8,205.8 L454.9,199.6 L455.0,205.7 L455.0,210.1 L455.1,201.6 L455.1,203.8 L455.2,199.9 L455.3,203.9 L455.3,212.5 L455.4,209.6 L455.5,199.1 L455.5,207.1 L455.6,201.9 L455.6,202.1 L455.7,204.3 L455.8,200.3 L455.8,194.5 L455.9,204.5 L456.0,204.0 L456.0,199.4 L456.1,203.6 L456.1,198.2 L456.2,202.0 L456.3,202.3 L456.3,206.0 L456.4,202.4 L456.5,195.1 L456.5,204.9 L456.6,195.3 L456.6,198.9 L456.7,199.2 L456.8,204.0 L456.8,204.3 L456.9,205.0 L457.0,205.1 L457.0,206.5 L457.1,202.1 L457.1,205.4 L457.2,204.9 L457.3,210.5 L457.3,206.1 L457.4,206.9 L457.4,203.3 L457.5,207.9 L457.6,203.1 L457.6,207.6 L457.7,203.5 L457.8,199.5 L457.8,204.0 L457.9,201.7 L457.9,202.3 L458.0,203.4 L458.1,203.2 L458.1,203.9 L458.2,198.4 L458.2,206.7 L458.3,206.3 L458.4,205.9 L458.4,210.4 L458.5,218.8 L458.5,214.5 L458.6,214.0 L458.7,213.9 L458.7,213.2 L458.8,211.2 L458.9,214.2 L458.9,202.0 L459.0,208.9 L459.0,209.2 L459.1,206.9 L459.2,214.9 L459.2,211.7 L459.3,212.0 L459.3,210.2 L459.4,212.6 L459.5,217.0 L459.5,217.6 L459.6,221.2 L459.6,211.4 L459.7,208.7 L459.8,216.0 L459.8,216.5 L459.9,207.7 L459.9,211.9 L460.0,215.8 L460.1,210.8 L460.1,214.2 L460.2,216.5 L460.2,210.9 L460.3,211.4 L460.4,211.5 L460.4,212.3 L460.5,215.2 L460.5,215.7 L460.6,213.5 L460.7,223.5 L460.7,223.6 L460.8,223.8 L460.8,207.0 L460.9,224.0 L461.0,213.5 L461.0,213.9 L461.1,209.6 L461.1,209.0 L461.2,211.8 L461.3,216.0 L461.3,209.6 L461.4,208.6 L461.4,211.3 L461.5,208.5 L461.5,208.3 L461.6,208.5 L461.7,206.6 L461.7,209.3 L461.8,207.1 L461.8,205.9 L461.9,202.3 L462.0,207.3 L462.0,208.8 L462.1,203.9 L462.1,203.4 L462.2,206.9 L462.3,202.6 L462.3,206.1 L462.4,212.8 L462.4,205.6 L462.5,213.2 L462.5,210.2 L462.6,203.0 L462.7,208.2 L462.7,215.3 L462.8,208.9 L462.8,213.9 L462.9,216.2 L463.0,215.1 L463.0,212.9 L463.1,211.5 L463.1,213.8 L463.2,209.5 L463.2,211.1 L463.3,214.4 L463.4,209.6 L463.4,213.1 L463.5,214.5 L463.5,211.5 L463.6,220.5 L463.7,207.1 L463.7,211.9 L463.8,209.5 L463.8,212.8 L463.9,218.1 L463.9,211.3 L464.0,216.1 L464.1,206.8 L464.1,210.2 L464.2,205.1 L464.2,209.2 L464.3,214.9 L464.3,212.3 L464.4,210.6 L464.5,209.3 L464.5,209.6 L464.6,212.4 L464.6,209.3 L464.7,211.3 L464.8,213.5 L464.8,213.2 L464.9,218.2 L464.9,210.0 L465.0,212.0 L465.0,209.3 L465.1,208.7 L465.2,208.3 L465.2,207.5 L465.3,219.3 L465.3,211.5 L465.4,214.8 L465.4,209.6 L465.5,212.5 L465.5,207.5 L465.6,213.2 L465.7,214.6 L465.7,220.9 L465.8,214.5 L465.8,220.1 L465.9,214.9 L465.9,217.6 L466.0,214.8 L466.1,214.0 L466.1,214.7 L466.2,219.8 L466.2,225.6 L466.3,214.6 L466.3,222.4 L466.4,212.8 L466.5,219.6 L466.5,221.4 L466.6,219.7 L466.6,218.4 L466.7,223.3 L466.7,220.0 L466.8,230.2 L466.9,224.0 L466.9,234.9 L467.0,228.1 L467.0,237.0 L467.1,227.5 L467.1,234.4 L467.2,234.4 L467.2,237.6 L467.3,235.5 L467.4,237.4 L467.4,229.1 L467.5,238.1 L467.5,237.0 L467.6,233.7 L467.6,238.4 L467.7,227.7 L467.7,231.3 L467.8,228.6 L467.9,232.6 L467.9,237.1 L468.0,229.4 L468.0,230.6 L468.1,222.7 L468.1,227.8 L468.2,231.3 L468.2,233.3 L468.3,239.9 L468.4,234.8 L468.4,239.4 L468.5,238.1 L468.5,227.3 L468.6,238.2 L468.6,238.7 L468.7,232.1 L468.7,231.6 L468.8,232.0 L468.9,241.1 L468.9,229.2 L469.0,239.1 L469.0,238.9 L469.1,241.1 L469.1,241.7 L469.2,238.7 L469.2,241.9 L469.3,238.6 L469.3,228.0 L469.4,232.1 L469.5,232.7 L469.5,232.5 L469.6,224.3 L469.6,223.8 L469.7,227.2 L469.7,224.5 L469.8,227.3 L469.8,224.5 L469.9,233.9 L470.0,226.2 L470.0,231.5 L470.1,223.4 L470.1,221.9 L470.2,223.9 L470.2,221.4 L470.3,221.4 L470.3,225.2 L470.4,222.5 L470.4,218.7 L470.5,219.8 L470.5,218.9 L470.6,213.7 L470.7,231.4 L470.7,221.2 L470.8,228.5 L470.8,221.7 L470.9,219.6 L470.9,222.8 L471.0,220.3 L471.0,221.6 L471.1,223.5 L471.1,220.2 L471.2,215.7 L471.3,223.4 L471.3,224.5 L471.4,218.6 L471.4,225.3 L471.5,219.2 L471.5,218.6 L471.6,224.1 L471.6,224.6 L471.7,216.7 L471.7,220.4 L471.8,222.8 L471.8,218.4 L471.9,221.2 L471.9,223.2 L472.0,227.4 L472.1,221.3 L472.1,226.7 L472.2,225.9 L472.2,224.3 L472.3,226.4 L472.3,236.2 L472.4,228.3 L472.4,223.0 L472.5,223.1 L472.5,231.0 L472.6,225.3 L472.6,225.6 L472.7,217.2 L472.7,224.8 L472.8,228.6 L472.9,223.9 L472.9,220.8 L473.0,226.2 L473.0,221.6 L473.1,224.9 L473.1,224.2 L473.2,224.8 L473.2,223.8 L473.3,222.0 L473.3,227.4 L473.4,228.8 L473.4,227.5 L473.5,229.1 L473.5,236.4 L473.6,235.5 L473.6,230.9 L473.7,234.6 L473.8,244.4 L473.8,243.2 L473.9,241.7 L473.9,232.5 L474.0,239.7 L474.0,230.4 L474.1,237.7 L474.1,233.5 L474.2,229.3 L474.2,229.7 L474.3,247.7 L474.3,230.9 L474.4,233.1 L474.4,227.7 L474.5,233.2 L474.5,241.0 L474.6,240.1 L474.6,230.4 L474.7,229.5 L474.7,233.4 L474.8,235.8 L474.9,249.6 L474.9,227.4 L475.0,231.9 L475.0,232.5 L475.1,235.2 L475.1,229.3 L475.2,231.3 L475.2,234.6 L475.3,241.2 L475.3,238.2 L475.4,233.8 L475.4,232.3 L475.5,239.2 L475.5,235.4 L475.6,234.4 L475.6,239.8 L475.7,236.9 L475.7,244.6 L475.8,247.8 L475.8,244.1 L475.9,236.7 L475.9,254.3 L476.0,236.6 L476.0,242.4 L476.1,241.6 L476.1,237.8 L476.2,243.8 L476.2,237.0 L476.3,236.5 L476.3,236.4 L476.4,232.6 L476.5,231.3 L476.5,223.1 L476.6,227.7 L476.6,230.3 L476.7,227.1 L476.7,226.2 L476.8,232.4 L476.8,224.8 L476.9,230.8 L476.9,228.7 L477.0,230.8 L477.0,233.8 L477.1,235.9 L477.1,239.8 L477.2,232.6 L477.2,237.7 L477.3,243.3 L477.3,238.2 L477.4,243.5 L477.4,241.0 L477.5,233.2 L477.5,234.6 L477.6,239.1 L477.6,236.6 L477.7,234.0 L477.7,234.4 L477.8,257.1 L477.8,248.4 L477.9,238.5 L477.9,236.9 L478.0,233.5 L478.0,235.2 L478.1,234.5 L478.1,234.6 L478.2,230.5 L478.2,235.1 L478.3,238.2 L478.3,231.3 L478.4,233.6 L478.4,239.6 L478.5,240.1 L478.5,238.0 L478.6,237.8 L478.6,240.6 L478.7,243.0 L478.7,244.9 L478.8,245.9 L478.8,249.9 L478.9,239.7 L478.9,259.7 L479.0,243.0 L479.0,253.6 L479.1,247.8 L479.1,238.7 L479.2,253.3 L479.2,244.0 L479.3,252.3 L479.3,242.9 L479.4,243.1 L479.4,240.5 L479.5,235.4 L479.5,258.5 L479.6,244.7 L479.6,227.4 L479.7,234.4 L479.7,228.2 L479.8,237.6 L479.8,231.5 L479.9,241.8 L479.9,233.9 L480.0,239.4 L480.0,230.7 L480.1,234.1 L480.1,245.2 L480.2,251.6 L480.2,237.3 L480.3,235.1 L480.3,229.9 L480.4,245.9 L480.4,256.9 L480.5,234.3 L480.5,262.4 L480.6,239.2 L480.6,243.4 L480.7,238.5 L480.7,243.5 L480.8,235.6 L480.8,237.2 L480.9,235.5 L480.9,236.7 L481.0,237.6 L481.0,233.6 L481.1,232.9 L481.1,239.7 L481.2,235.0 L481.2,242.2 L481.3,231.8 L481.3,246.6 L481.4,244.9 L481.4,241.9 L481.5,238.0 L481.5,238.5 L481.6,241.2 L481.6,238.3 L481.6,244.9 L481.7,229.8 L481.7,240.2 L481.8,237.5 L481.8,231.5 L481.9,242.2 L481.9,239.4 L482.0,246.2 L482.0,241.3 L482.1,236.2 L482.1,242.9 L482.2,237.4 L482.2,238.7 L482.3,242.1 L482.3,243.7 L482.4,245.2 L482.4,244.0 L482.5,240.7 L482.5,236.6 L482.6,240.1 L482.6,235.2 L482.7,234.9 L482.7,237.3 L482.8,241.7 L482.8,232.5 L482.9,238.3 L482.9,231.7 L483.0,233.0 L483.0,230.2 L483.1,241.0 L483.1,229.8 L483.1,233.6 L483.2,240.9 L483.2,237.1 L483.3,243.9 L483.3,247.3 L483.4,244.9 L483.4,254.4 L483.5,237.1 L483.5,253.4 L483.6,238.4 L483.6,245.0 L483.7,239.7 L483.7,239.5 L483.8,241.7 L483.8,235.4 L483.9,241.3 L483.9,237.2 L484.0,240.2 L484.0,239.3 L484.1,231.0 L484.1,238.8 L484.2,241.1 L484.2,244.6 L484.2,243.9 L484.3,254.0 L484.3,260.9 L484.4,243.9 L484.4,242.9 L484.5,251.1 L484.5,236.3 L484.6,241.1 L484.6,241.6 L484.7,240.4 L484.7,236.7 L484.8,242.3 L484.8,236.8 L484.9,247.3 L484.9,263.3 L485.0,232.1 L485.0,239.1 L485.1,243.4 L485.1,241.2 L485.1,239.6 L485.2,232.4 L485.2,237.2 L485.3,238.6 L485.3,240.5" stroke="#00f" stroke-dasharray="1.7 1.8"/>
<path class="c" d="M68.0,79.4 L70.6,79.4 L73.1,79.3 L75.5,79.1 L77.9,79.0 L80.3,78.9 L82.5,78.8 L84.8,78.7 L87.0,78.5 L89.1,78.4 L91.2,78.3 L93.3,78.2 L95.3,78.1 L97.3,78.0 L99.2,77.9 L101.1,77.7 L103.0,77.5 L104.8,77.3 L106.6,77.1 L108.4,76.9 L110.2,76.7 L111.9,76.5 L113.6,76.3 L115.2,76.1 L116.9,75.9 L118.5,75.6 L120.1,75.3 L121.7,75.0 L123.2,74.7 L124.7,74.5 L126.2,74.2 L127.7,73.9 L129.1,73.7 L130.6,73.4 L132.0,73.2 L133.4,73.0 L134.8,72.8 L136.1,72.6 L137.5,72.4 L138.8,72.2 L140.1,72.1 L141.4,71.9 L142.7,71.7 L143.9,71.5 L145.2,71.4 L146.4,71.4 L147.6,71.4 L148.8,71.3 L150.0,71.2 L151.2,71.2 L152.3,71.1 L153.5,71.1 L154.6,71.1 L155.8,71.1 L156.9,71.1 L158.0,71.1 L159.1,71.2 L160.1,71.2 L161.2,71.2 L162.3,71.4 L163.3,71.5 L164.3,71.6 L165.4,71.7 L166.4,71.8 L167.4,71.9 L168.4,72.0 L169.4,72.1 L170.3,72.2 L171.3,72.4 L172.3,72.5 L173.2,72.5 L174.2,72.7 L175.1,72.8 L176.0,72.8 L176.9,73.0 L177.8,73.1 L178.7,73.2 L179.6,73.3 L180.5,73.4 L181.4,73.5 L182.3,73.6 L183.1,73.7 L184.0,73.8 L184.8,73.9 L185.7,74.0 L186.5,74.0 L187.3,74.1 L188.2,74.3 L189.0,74.4 L189.8,74.5 L190.6,74.5 L191.4,74.6 L192.2,74.7 L193.0,74.8 L193.7,74.9 L194.5,75.0 L195.3,75.1 L196.1,75.2 L196.8,75.3 L197.6,75.4 L198.3,75.5 L199.0,75.6 L199.8,75.7 L200.5,75.7 L201.2,75.9 L202.0,76.0 L202.7,76.1 L203.4,76.3 L204.1,76.4 L204.8,76.5 L205.5,76.6 L206.2,76.8 L206.9,76.9 L207.5,77.0 L208.2,77.1 L208.9,77.2 L209.6,77.3 L210.2,77.4 L210.9,77.6 L211.5,77.7 L212.2,77.8 L212.8,77.9 L213.5,78.1 L214.1,78.2 L214.8,78.4 L215.4,78.5 L216.0,78.6 L216.6,78.8 L217.3,78.9 L217.9,79.0 L218.5,79.1 L219.1,79.2 L219.7,79.4 L220.3,79.5 L220.9,79.7 L221.5,79.8 L222.1,80.0 L222.7,80.2 L223.3,80.3 L223.9,80.5 L224.4,80.7 L225.0,80.8 L225.6,81.0 L226.2,81.2 L226.7,81.3 L227.3,81.5 L227.9,81.6 L228.4,81.8 L229.0,82.0 L229.5,82.1 L230.1,82.2 L230.6,82.4 L231.2,82.6 L231.7,82.7 L232.2,82.9 L232.8,83.1 L233.3,83.3 L233.8,83.5 L234.4,83.6 L234.9,83.9 L235.4,84.0 L237.5,84.8 L239.5,85.4 L241.5,86.2 L243.4,87.0 L245.3,87.8 L247.2,88.6 L249.0,89.0 L250.8,88.6 L252.6,87.3 L254.4,86.1 L256.1,85.5 L257.8,86.1 L259.4,87.1 L261.1,88.4 L262.7,89.6 L264.3,89.7 L265.8,89.5 L267.4,89.5 L268.9,89.7 L270.4,90.0 L271.9,90.7 L273.3,91.3 L274.8,92.0 L276.2,92.6 L277.6,93.2 L279.0,93.7 L280.3,94.3 L281.7,94.9 L283.0,95.4 L284.3,96.0 L285.6,96.5 L286.9,97.1 L288.1,97.6 L289.4,98.1 L290.6,98.6 L291.8,99.1 L293.0,99.6 L294.2,100.0 L295.4,100.5 L296.5,101.0 L297.7,101.4 L298.8,101.9 L300.0,102.4 L301.1,102.8 L302.2,103.2 L303.3,103.7 L304.3,104.1 L305.4,104.5 L306.5,105.0 L307.5,105.4 L308.5,105.8 L309.6,106.3 L310.6,106.7 L311.6,107.1 L312.6,107.5 L313.6,107.8 L314.5,108.3 L315.5,108.6 L316.5,109.0 L317.4,109.4 L318.4,109.8 L319.3,110.4 L320.2,110.8 L321.1,111.2 L322.0,111.5 L322.9,111.9 L323.8,112.4 L324.7,112.8 L325.6,113.2 L326.5,113.6 L327.3,114.0 L328.2,114.4 L329.0,114.8 L329.9,115.2 L330.7,115.5 L331.5,115.8 L332.4,116.3 L333.2,116.6 L334.0,116.9 L334.8,117.4 L335.6,117.7 L336.4,118.0 L337.2,118.3 L337.9,118.6 L338.7,119.0 L339.5,119.4 L340.2,119.7 L341.0,120.1 L341.8,120.5 L342.5,120.7 L343.2,121.1 L344.0,121.4 L344.7,121.7 L345.4,122.1 L346.1,122.4 L346.9,122.6 L347.6,122.9 L348.3,123.3 L349.0,123.5 L349.7,123.8 L350.0,124.1 L350.4,124.2 L350.7,124.4 L351.1,124.4 L351.4,124.5 L351.7,124.8 L352.1,124.9 L352.4,125.0 L352.7,125.2 L353.1,125.3 L353.4,125.5 L353.8,125.7 L354.1,125.8 L354.4,126.0 L354.7,126.1 L355.1,126.3 L355.4,126.4 L355.7,126.5 L356.1,126.7 L356.4,126.7 L356.7,126.9 L357.0,127.1 L357.4,127.3 L357.7,127.5 L358.0,127.6 L358.3,127.8 L358.6,128.0 L359.0,128.1 L359.3,128.3 L359.6,128.5 L359.9,128.6 L360.2,128.6 L360.5,128.9 L360.8,129.0 L361.2,129.2 L361.5,129.4 L361.8,129.4 L362.1,129.6 L362.4,129.7 L362.7,129.8 L363.0,129.9 L363.3,130.1 L363.6,130.3 L363.9,130.4 L364.2,130.6 L364.5,130.6 L364.8,130.7 L365.1,130.8 L365.4,130.9 L365.7,131.1 L366.0,131.0 L366.3,131.2 L366.6,131.2 L366.9,131.5 L367.2,131.5 L367.5,131.6 L367.8,131.8 L368.1,132.0 L368.3,132.0 L368.6,132.4 L368.9,132.3 L369.2,132.3 L369.5,132.5 L369.8,132.7 L370.1,132.8 L370.4,132.9 L370.6,132.9 L370.9,133.2 L371.2,133.5 L371.5,133.5 L371.8,133.7 L372.0,133.6 L372.3,133.8 L372.6,133.8 L372.9,133.9 L373.2,134.0 L373.4,134.2 L373.7,134.2 L374.0,134.3 L374.3,134.7 L374.5,134.4 L374.8,134.7 L375.1,134.8 L375.4,134.9 L375.6,135.0 L375.9,135.1 L376.2,135.4 L376.4,135.4 L376.7,135.6 L377.0,135.8 L377.2,135.7 L377.5,135.9 L377.8,136.0 L378.0,136.2 L378.3,136.2 L378.6,136.4 L378.8,136.6 L379.1,136.5 L379.3,136.7 L379.6,137.0 L379.9,137.2 L380.1,137.2 L380.4,137.4 L380.6,137.3 L380.9,137.5 L381.1,137.7 L381.4,138.0 L381.7,137.9 L381.9,137.9 L382.2,138.2 L382.4,138.4 L382.7,138.3 L382.9,138.6 L383.2,138.7 L383.4,138.8 L383.7,138.9 L383.9,138.9 L384.2,139.3 L384.4,139.4 L384.7,139.6 L384.9,140.0 L385.2,140.0 L385.4,140.2 L385.7,140.3 L385.9,140.5 L386.1,140.6 L386.4,140.6 L386.6,140.8 L386.9,140.9 L387.1,141.0 L387.4,141.2 L387.6,141.5 L387.8,141.4 L388.1,141.7 L388.3,141.8 L388.6,142.2 L388.8,142.2 L389.0,142.6 L389.3,142.7 L389.5,142.6 L389.7,142.6 L390.0,142.6 L390.2,143.0 L390.5,143.3 L390.7,143.5 L390.9,143.9 L391.2,144.0 L391.4,144.1 L391.6,144.1 L391.8,144.3 L392.1,144.5 L392.3,144.6 L392.5,145.0 L392.8,145.1 L393.0,145.2 L393.2,145.2 L393.5,145.6 L393.7,145.4 L393.9,145.3 L394.1,145.6 L394.4,145.4 L394.6,145.7 L394.8,145.7 L395.0,146.0 L395.3,146.5 L395.5,146.1 L395.7,146.2 L395.9,146.5 L396.1,146.4 L396.4,146.7 L396.6,147.0 L396.8,147.3 L397.0,147.4 L397.3,147.4 L397.5,147.4 L397.7,147.4 L397.9,147.8 L398.1,147.9 L398.3,148.1 L398.6,148.3 L398.8,148.5 L399.0,148.6 L399.2,148.7 L399.4,148.8 L399.6,149.1 L399.9,149.3 L400.1,149.4 L400.3,149.8 L400.5,149.7 L400.7,149.9 L400.9,150.1 L401.1,149.9 L401.3,150.5 L401.6,150.8 L401.8,151.0 L402.0,150.9 L402.2,151.2 L402.4,151.3 L402.6,151.4 L402.8,151.6 L403.0,151.5 L403.2,151.6 L403.4,151.8 L403.6,151.9 L403.8,151.8 L404.0,151.8 L404.3,152.2 L404.5,151.8 L404.7,152.5 L404.9,152.8 L405.1,152.9 L405.3,153.1 L405.5,153.2 L405.7,153.3 L405.9,152.9 L406.1,153.3 L406.3,153.5 L406.5,153.3 L406.7,153.8 L406.9,154.4 L407.1,154.6 L407.3,154.2 L407.5,154.6 L407.7,154.7 L407.9,154.7 L408.1,155.0 L408.3,155.3 L408.5,154.7 L408.7,154.9 L408.9,155.5 L409.1,155.4 L409.3,155.9 L409.5,155.7 L409.6,156.1 L409.8,156.2 L410.0,156.4 L410.2,156.2 L410.4,156.7 L410.6,157.6 L410.8,158.3 L411.0,158.0 L411.2,157.3 L411.4,159.4 L411.6,158.9 L411.8,158.8 L412.0,158.4 L412.2,158.6 L412.3,159.7 L412.5,159.9 L412.7,160.3 L412.9,160.8 L413.1,160.9 L413.3,161.0 L413.5,161.4 L413.7,160.5 L413.8,161.1 L414.0,161.0 L414.2,161.2 L414.4,161.5 L414.6,161.1 L414.8,161.3 L415.0,161.8 L415.2,161.7 L415.3,162.8 L415.5,161.2 L415.7,161.6 L415.9,161.6 L416.1,162.9 L416.3,164.3 L416.4,164.0 L416.6,164.1 L416.8,163.3 L417.0,164.7 L417.2,164.5 L417.3,164.3 L417.5,165.1 L417.7,165.5 L417.9,166.1 L418.1,165.9 L418.2,166.5 L418.4,167.5 L418.6,166.1 L418.8,168.4 L419.0,167.8 L419.1,168.4 L419.3,167.9 L419.5,167.4 L419.7,167.3 L419.8,169.2 L420.0,169.5 L420.2,170.4 L420.4,169.4 L420.5,171.7 L420.7,171.9 L420.9,173.0 L421.1,171.1 L421.2,172.2 L421.4,173.2 L421.6,172.6 L421.8,171.4 L421.9,172.0 L421.9,173.1 L422.0,172.5 L422.1,173.3 L422.2,172.6 L422.3,171.1 L422.4,173.4 L422.5,172.0 L422.5,174.5 L422.6,174.7 L422.7,174.4 L422.8,176.5 L422.9,175.8 L423.0,175.5 L423.1,175.7 L423.1,178.9 L423.2,176.9 L423.3,175.2 L423.4,175.2 L423.5,174.1 L423.6,178.0 L423.7,174.2 L423.7,176.0 L423.8,174.9 L423.9,174.2 L424.0,175.1 L424.1,176.1 L424.2,176.7 L424.3,176.0 L424.3,176.9 L424.4,176.1 L424.5,179.1 L424.6,176.6 L424.7,178.7 L424.8,178.1 L424.8,178.2 L424.9,175.1 L425.0,177.1 L425.1,179.0 L425.2,176.9 L425.3,178.1 L425.3,181.0 L425.4,180.0 L425.5,178.4 L425.6,179.1 L425.7,178.5 L425.8,177.8 L425.9,180.0 L425.9,176.3 L426.0,179.9 L426.1,178.4 L426.2,181.2 L426.3,180.1 L426.3,181.3 L426.4,181.4 L426.5,181.8 L426.6,178.9 L426.7,181.2 L426.8,180.8 L426.8,179.6 L426.9,181.1 L427.0,182.2 L427.1,182.7 L427.2,180.3 L427.3,182.3 L427.3,179.9 L427.4,180.8 L427.5,181.0 L427.6,182.4 L427.7,182.7 L427.7,182.8 L427.8,182.0 L427.9,183.2 L428.0,180.3 L428.1,183.9 L428.2,181.8 L428.2,182.2 L428.3,183.6 L428.4,185.6 L428.5,182.7 L428.6,186.8 L428.6,184.3 L428.7,182.2 L428.8,181.2 L428.9,183.0 L429.0,183.4 L429.1,183.4 L429.1,182.0 L429.2,182.3 L429.3,180.0 L429.4,184.7 L429.5,183.6 L429.5,185.1 L429.6,187.4 L429.7,184.8 L429.8,184.7 L429.9,185.3 L429.9,191.4 L430.0,187.6 L430.1,186.7 L430.2,188.5 L430.3,186.2 L430.3,186.5 L430.4,190.8 L430.5,190.6 L430.6,184.8 L430.7,190.5 L430.7,186.6 L430.8,191.1 L430.9,191.2 L431.0,191.7 L431.1,190.6 L431.1,187.7 L431.2,189.9 L431.3,187.8 L431.4,187.1 L431.4,190.7 L431.5,195.7 L431.6,188.9 L431.7,196.8 L431.8,191.0 L431.8,196.8 L431.9,197.2 L432.0,193.7 L432.1,195.8 L432.2,193.1 L432.2,190.4 L432.3,191.6 L432.4,193.8 L432.5,189.8 L432.5,194.0 L432.6,190.8 L432.7,189.8 L432.8,190.8 L432.9,193.4 L432.9,192.5 L433.0,192.8 L433.1,191.9 L433.2,189.9 L433.2,189.5 L433.3,193.6 L433.4,191.6 L433.5,197.3 L433.6,190.4 L433.6,194.1 L433.7,194.0 L433.8,192.6 L433.9,196.6 L433.9,201.0 L434.0,199.8 L434.1,197.7 L434.2,197.9 L434.3,195.7 L434.3,197.7 L434.4,195.6 L434.5,200.4 L434.6,196.0 L434.6,199.0 L434.7,195.1 L434.8,193.0 L434.9,196.9 L434.9,192.7 L435.0,195.8 L435.1,196.3 L435.2,195.8 L435.2,195.0 L435.3,188.8 L435.4,197.5 L435.5,192.3 L435.6,194.0 L435.6,192.5 L435.7,193.3 L435.8,192.1 L435.9,192.6 L435.9,191.6 L436.0,192.5 L436.1,194.4 L436.2,196.2 L436.2,192.4 L436.3,193.6 L436.4,193.5 L436.5,191.5 L436.5,193.1 L436.6,195.6 L436.7,193.9 L436.8,193.6 L436.8,193.4 L436.9,194.2 L437.0,192.1 L437.1,193.2 L437.1,191.7 L437.2,192.9 L437.3,192.1 L437.4,190.7 L437.4,191.2 L437.5,195.6 L437.6,190.3 L437.7,194.8 L437.7,192.4 L437.8,194.7 L437.9,195.2 L438.0,194.3 L438.0,195.3 L438.1,200.4 L438.2,198.1 L438.2,198.6 L438.3,199.0 L438.4,200.5 L438.5,198.2 L438.5,195.9 L438.6,197.8 L438.7,199.0 L438.8,209.5 L438.8,197.0 L438.9,198.7 L439.0,196.6 L439.1,198.7 L439.1,199.6 L439.2,200.7 L439.3,199.5 L439.4,196.2 L439.4,198.4 L439.5,202.5 L439.6,201.3 L439.6,200.4 L439.7,202.1 L439.8,197.1 L439.9,201.0 L439.9,200.3 L440.0,200.4 L440.1,200.3 L440.2,201.1 L440.2,201.1 L440.3,200.2 L440.4,194.5 L440.4,200.8 L440.5,197.0 L440.6,195.4 L440.7,193.7 L440.7,195.3 L440.8,196.3 L440.9,195.8 L441.0,199.9 L441.0,196.0 L441.1,194.2 L441.2,197.3 L441.2,196.5 L441.3,197.2 L441.4,202.0 L441.5,198.9 L441.5,196.9 L441.6,199.1 L441.7,200.8 L441.7,203.1 L441.8,198.2 L441.9,205.0 L442.0,200.3 L442.0,206.9 L442.1,201.4 L442.2,208.6 L442.2,205.7 L442.3,207.1 L442.4,205.3 L442.5,204.7 L442.5,205.1 L442.6,209.4 L442.7,205.1 L442.7,207.9 L442.8,207.1 L442.9,207.2 L442.9,205.8 L443.0,206.0 L443.1,205.3 L443.2,203.5 L443.2,214.5 L443.3,213.5 L443.4,213.6 L443.4,208.2 L443.5,203.3 L443.6,207.7 L443.7,204.5 L443.7,204.3 L443.8,204.5 L443.9,206.8 L443.9,209.4 L444.0,204.3 L444.1,213.7 L444.1,206.9 L444.2,214.0 L444.3,213.2 L444.4,216.0 L444.4,207.8 L444.5,212.2 L444.6,208.6 L444.6,212.7 L444.7,210.4 L444.8,207.4 L444.8,213.1 L444.9,210.0 L445.0,209.7 L445.0,206.5 L445.1,206.0 L445.2,207.4 L445.3,202.0 L445.3,202.9 L445.4,202.8 L445.5,208.7 L445.5,211.3 L445.6,202.5 L445.7,203.4 L445.7,207.0 L445.8,204.5 L445.9,206.9 L445.9,203.5 L446.0,207.3 L446.1,208.7 L446.2,199.7 L446.2,207.0 L446.3,211.0 L446.4,208.2 L446.4,207.6 L446.5,208.0 L446.6,205.6 L446.6,208.2 L446.7,210.0 L446.8,210.1 L446.8,205.0 L446.9,204.4 L447.0,203.8 L447.0,206.6 L447.1,205.4 L447.2,203.0 L447.2,201.1 L447.3,211.7 L447.4,204.5 L447.4,202.7 L447.5,201.5 L447.6,207.7 L447.7,219.0 L447.7,208.5 L447.8,213.6 L447.9,214.7 L447.9,213.2 L448.0,209.6 L448.1,208.8 L448.1,206.5 L448.2,202.8 L448.3,211.7 L448.3,203.5 L448.4,205.2 L448.5,206.2 L448.5,211.1 L448.6,208.5 L448.7,208.3 L448.7,211.8 L448.8,208.9 L448.9,212.8 L448.9,208.0 L449.0,204.4 L449.1,211.1 L449.1,209.3 L449.2,204.1 L449.3,206.9 L449.3,203.8 L449.4,203.9 L449.5,207.8 L449.5,208.3 L449.6,207.5 L449.7,206.5 L449.7,209.9 L449.8,204.4 L449.9,206.5 L449.9,207.6 L450.0,208.0 L450.1,208.1 L450.1,208.4 L450.2,211.9 L450.3,216.9 L450.3,208.8 L450.4,208.1 L450.5,205.3 L450.5,213.6 L450.6,212.7 L450.6,210.9 L450.7,207.2 L450.8,205.7 L450.8,205.8 L450.9,207.6 L451.0,205.9 L451.0,206.0 L451.1,211.4 L451.2,216.4 L451.2,206.3 L451.3,212.8 L451.4,210.6 L451.4,211.0 L451.5,206.6 L451.6,210.2 L451.6,210.8 L451.7,210.1 L451.8,210.3 L451.8,211.1 L451.9,209.0 L452.0,214.4 L452.0,219.6 L452.1,214.9 L452.1,209.9 L452.2,213.9 L452.3,215.7 L452.3,216.6 L452.4,216.0 L452.5,219.2 L452.5,228.8 L452.6,222.7 L452.7,220.4 L452.7,216.0 L452.8,217.0 L452.9,223.6 L452.9,220.6 L453.0,218.6 L453.0,224.7 L453.1,227.5 L453.2,227.3 L453.2,222.2 L453.3,216.7 L453.4,219.1 L453.4,219.1 L453.5,221.9 L453.6,224.5 L453.6,225.8 L453.7,219.0 L453.8,219.7 L453.8,218.7 L453.9,222.9 L453.9,217.6 L454.0,215.0 L454.1,216.8 L454.1,217.8 L454.2,226.6 L454.3,211.8 L454.3,213.0 L454.4,224.3 L454.5,225.7 L454.5,221.7 L454.6,228.0 L454.6,223.7 L454.7,229.5 L454.8,221.2 L454.8,225.4 L454.9,234.0 L455.0,247.0 L455.0,221.0 L455.1,226.1 L455.1,229.7 L455.2,227.5 L455.3,220.1 L455.3,214.1 L455.4,217.8 L455.5,217.4 L455.5,215.0 L455.6,214.4 L455.6,214.3 L455.7,213.9 L455.8,218.3 L455.8,221.8 L455.9,215.9 L456.0,218.7 L456.0,229.0 L456.1,222.1 L456.1,218.7 L456.2,229.4 L456.3,228.1 L456.3,237.7 L456.4,233.8 L456.5,238.4 L456.5,221.9 L456.6,231.4 L456.6,229.6 L456.7,224.0 L456.8,220.5 L456.8,223.1 L456.9,223.2 L457.0,219.0 L457.0,225.7 L457.1,224.9 L457.1,231.5 L457.2,228.0 L457.3,233.7 L457.3,232.8 L457.4,229.9 L457.4,244.7 L457.5,232.9 L457.6,235.7 L457.6,254.2 L457.7,225.1 L457.8,229.3 L457.8,241.0 L457.9,254.8 L457.9,227.1 L458.0,228.1 L458.1,224.9 L458.1,225.6 L458.2,217.5 L458.2,222.5 L458.3,222.7 L458.4,222.4 L458.4,232.5 L458.5,230.6 L458.5,229.8 L458.6,236.1 L458.7,222.6 L458.7,225.5 L458.8,218.5 L458.9,227.0 L458.9,218.7 L459.0,216.7 L459.0,220.1 L459.1,222.2 L459.2,219.9 L459.2,225.4 L459.3,231.1 L459.3,221.9 L459.4,229.8 L459.5,225.4 L459.5,230.0 L459.6,232.3 L459.6,237.1 L459.7,243.0 L459.8,230.5 L459.8,232.8 L459.9,234.5 L459.9,232.3 L460.0,225.7 L460.1,236.9 L460.1,236.4 L460.2,243.3 L460.2,233.8 L460.3,227.2 L460.4,237.5 L460.4,238.3 L460.5,231.1 L460.5,232.0 L460.6,228.0 L460.7,229.8 L460.7,226.6 L460.8,228.1 L460.8,226.0 L460.9,229.4 L461.0,231.2 L461.0,230.8 L461.1,236.8 L461.1,228.1 L461.2,233.0 L461.3,232.1 L461.3,231.1 L461.4,231.9 L461.4,235.6 L461.5,235.4 L461.5,228.4 L461.6,228.3 L461.7,227.9 L461.7,230.1 L461.8,249.7 L461.8,235.5 L461.9,233.9 L462.0,229.3 L462.0,229.4 L462.1,231.2 L462.1,230.5 L462.2,243.9 L462.3,233.4 L462.3,230.0 L462.4,226.7 L462.4,225.0 L462.5,229.3 L462.5,236.2 L462.6,237.0 L462.7,231.2 L462.7,229.7 L462.8,228.9 L462.8,234.5 L462.9,242.7 L463.0,231.0 L463.0,246.6 L463.1,240.3 L463.1,230.9 L463.2,228.0 L463.2,228.6 L463.3,230.9 L463.4,235.7 L463.4,229.6 L463.5,233.0 L463.5,226.6 L463.6,227.1 L463.7,226.7 L463.7,228.6 L463.8,230.3 L463.8,255.5 L463.9,228.7 L463.9,223.9 L464.0,226.8 L464.1,224.0 L464.1,224.1 L464.2,225.0 L464.2,224.6 L464.3,224.4 L464.3,226.0 L464.4,228.3 L464.5,229.9 L464.5,233.8 L464.6,241.7 L464.6,235.6 L464.7,236.7 L464.8,231.2 L464.8,241.1 L464.9,238.0 L464.9,240.0 L465.0,238.3 L465.0,241.1 L465.1,239.2 L465.2,232.1 L465.2,269.9 L465.3,241.2 L465.3,239.8 L465.4,242.8 L465.4,257.4 L465.5,229.2 L465.5,242.3 L465.6,229.4 L465.7,232.9 L465.7,227.6 L465.8,229.2 L465.8,232.9 L465.9,226.5 L465.9,226.6 L466.0,226.7 L466.1,231.4 L466.1,231.7 L466.2,231.2 L466.2,233.0 L466.3,227.1 L466.3,231.9 L466.4,234.8 L466.5,232.5 L466.5,230.6 L466.6,233.1 L466.6,237.3 L466.7,230.1 L466.7,234.5 L466.8,237.4 L466.9,229.2 L466.9,238.1 L467.0,233.3 L467.0,228.1 L467.1,233.3 L467.1,235.8 L467.2,238.5 L467.2,241.8 L467.3,243.8 L467.4,238.5 L467.4,243.7 L467.5,244.2 L467.5,276.9 L467.6,248.0 L467.6,250.4 L467.7,257.3 L467.7,247.5 L467.8,279.2 L467.9,248.0 L467.9,247.7 L468.0,250.1 L468.0,241.1 L468.1,247.0 L468.1,241.7 L468.2,235.9 L468.2,241.5 L468.3,239.6 L468.4,236.0 L468.4,237.0 L468.5,240.4 L468.5,239.5 L468.6,238.6 L468.6,237.1 L468.7,240.9 L468.7,235.8 L468.8,235.3 L468.9,230.5 L468.9,237.1 L469.0,235.5 L469.0,230.8 L469.1,235.1 L469.1,234.9 L469.2,236.9 L469.2,237.9 L469.3,234.7 L469.3,234.7 L469.4,241.6 L469.5,238.3 L469.5,231.4 L469.6,238.7 L469.6,243.5 L469.7,235.4 L469.7,238.3 L469.8,281.2 L469.8,242.2 L469.9,253.9 L470.0,242.1 L470.0,251.6 L470.1,263.2 L470.1,265.6 L470.2,286.6 L470.2,264.0 L470.3,258.2 L470.3,280.9 L470.4,267.2 L470.4,265.4 L470.5,253.1 L470.5,285.8 L470.6,250.5 L470.7,253.6 L470.7,246.1 L470.8,252.9 L470.8,252.1 L470.9,257.4 L470.9,250.6 L471.0,264.9 L471.0,251.6 L471.1,251.6 L471.1,256.2 L471.2,256.1 L471.3,260.2 L471.3,258.4 L471.4,251.2 L471.4,282.1 L471.5,238.6 L471.5,243.6 L471.6,241.4 L471.6,246.4 L471.7,243.9 L471.7,241.0 L471.8,241.2 L471.8,243.6 L471.9,244.8 L471.9,238.7 L472.0,243.7 L472.1,240.4 L472.1,252.3 L472.2,243.5 L472.2,247.8 L472.3,243.1 L472.3,240.2 L472.4,251.0 L472.4,240.5 L472.5,245.8 L472.5,238.7 L472.6,240.7 L472.6,242.5 L472.7,240.6 L472.7,236.7 L472.8,239.4 L472.9,236.8 L472.9,237.3 L473.0,237.0 L473.0,243.6 L473.1,237.7 L473.1,244.3 L473.2,242.9 L473.2,247.6 L473.3,249.9 L473.3,250.1 L473.4,249.2 L473.4,256.9 L473.5,247.5 L473.5,251.6 L473.6,261.3 L473.6,256.0 L473.7,249.3 L473.8,254.8 L473.8,251.7 L473.9,252.3 L473.9,252.5 L474.0,238.6 L474.0,249.4 L474.1,243.9 L474.1,243.6 L474.2,241.6 L474.2,241.4 L474.3,242.7 L474.3,241.9 L474.4,246.7 L474.4,240.9 L474.5,245.8 L474.5,244.3 L474.6,250.8 L474.6,245.7 L474.7,251.2 L474.7,247.9 L474.8,251.0 L474.9,251.9 L474.9,249.0 L475.0,240.6 L475.0,246.2 L475.1,245.9 L475.1,245.8 L475.2,245.5 L475.2,249.7 L475.3,256.2 L475.3,255.9 L475.4,252.1 L475.4,250.7 L475.5,256.6 L475.5,250.9 L475.6,254.9 L475.6,256.3 L475.7,254.4 L475.7,263.9 L475.8,247.1 L475.8,253.3 L475.9,248.8 L475.9,251.8 L476.0,248.1 L476.0,252.0 L476.1,247.9 L476.1,248.9 L476.2,246.6 L476.2,253.8 L476.3,256.9 L476.3,265.5 L476.4,261.5 L476.5,281.5 L476.5,287.8 L476.6,273.2 L476.6,267.5 L476.7,295.1 L476.7,277.3 L476.8,291.2 L476.8,254.4 L476.9,271.9 L476.9,258.8 L477.0,256.2 L477.0,259.7 L477.1,256.1 L477.1,281.7 L477.2,253.9 L477.2,261.9 L477.3,261.8 L477.3,276.4 L477.4,255.6 L477.4,251.2 L477.5,257.0 L477.5,245.5 L477.6,254.0 L477.6,250.8 L477.7,259.5 L477.7,246.7 L477.8,249.8 L477.8,248.7 L477.9,252.8 L477.9,254.9 L478.0,253.7 L478.0,254.7 L478.1,257.4 L478.1,251.7 L478.2,251.9 L478.2,255.9 L478.3,254.2 L478.3,264.2 L478.4,259.3 L478.4,319.0 L478.5,319.0 L478.5,257.3 L478.6,319.0 L478.6,260.9 L478.7,269.4 L478.7,319.0 L478.8,319.0 L478.8,266.4 L478.9,246.5 L478.9,319.0 L479.0,319.0 L479.0,273.1 L479.1,259.8 L479.1,258.0 L479.2,319.0 L479.2,319.0 L479.3,253.3 L479.3,251.8 L479.4,251.3 L479.4,319.0 L479.5,319.0 L479.5,256.3 L479.6,319.0 L479.6,319.0 L479.7,259.1 L479.7,256.6 L479.8,319.0 L479.8,319.0 L479.9,267.9 L479.9,319.0 L480.0,319.0 L480.0,256.6 L480.1,261.7 L480.1,257.0 L480.2,262.5 L480.2,319.0 L480.3,258.1 L480.3,261.4 L480.4,319.0 L480.4,319.0 L480.5,319.0 L480.5,256.5 L480.6,319.0 L480.6,319.0 L480.7,288.1 L480.7,319.0 L480.8,319.0 L480.8,282.1 L480.9,268.6 L480.9,319.0 L481.0,266.6 L481.0,263.9 L481.1,274.6 L481.1,319.0 L481.2,319.0 L481.2,319.0 L481.3,319.0 L481.3,271.1 L481.4,257.4 L481.4,319.0 L481.5,262.9 L481.5,260.1 L481.6,262.7 L481.6,319.0 L481.6,319.0 L481.7,264.0 L481.7,319.0 L481.8,257.3 L481.8,319.0 L481.9,261.4 L481.9,271.2 L482.0,266.5 L482.0,261.6 L482.1,284.0 L482.1,319.0 L482.2,319.0 L482.2,305.5 L482.3,319.0 L482.3,319.0 L482.4,281.0 L482.4,319.0 L482.5,295.8 L482.5,319.0 L482.6,319.0 L482.6,274.1 L482.7,259.7 L482.7,319.0 L482.8,319.0 L482.8,319.0 L482.9,270.0 L482.9,319.0 L483.0,267.8 L483.0,319.0 L483.1,319.0 L483.1,319.0 L483.1,267.2 L483.2,263.7 L483.2,272.4 L483.3,266.8 L483.3,319.0 L483.4,319.0 L483.4,272.5 L483.5,319.0 L483.5,319.0 L483.6,281.0 L483.6,319.0 L483.7,258.5 L483.7,319.0 L483.8,263.2 L483.8,265.2 L483.9,262.1 L483.9,319.0 L484.0,319.0 L484.0,262.3 L484.1,259.3 L484.1,319.0 L484.2,319.0 L484.2,319.0 L484.2,319.0 L484.3,268.1 L484.3,319.0 L484.4,267.1 L484.4,268.9 L484.5,270.3 L484.5,319.0 L484.6,267.4 L484.6,264.7 L484.7,263.8 L484.7,319.0 L484.8,319.0 L484.8,265.8 L484.9,266.3 L484.9,269.4 L485.0,271.1 L485.0,319.0 L485.1,285.3 L485.1,279.4 L485.1,266.6 L485.2,267.8 L485.2,319.0 L485.3,265.3 L485.3,319.0" stroke="#f0f" stroke-dasharray="1.15 0.95"/>
</g>
<path d="M68.0,316.00h4.6 M485.4,316.00h-4.6 M68.0,301.62h2.4 M485.4,301.62h-2.4 M68.0,282.60h2.4 M485.4,282.60h-2.4 M68.0,272.85h2.4 M485.4,272.85h-2.4 M68.0,268.22h4.6 M485.4,268.22h-4.6 M68.0,253.83h2.4 M485.4,253.83h-2.4 M68.0,234.82h2.4 M485.4,234.82h-2.4 M68.0,225.06h2.4 M485.4,225.06h-2.4 M68.0,220.43h4.6 M485.4,220.43h-4.6 M68.0,206.05h2.4 M485.4,206.05h-2.4 M68.0,187.03h2.4 M485.4,187.03h-2.4 M68.0,177.28h2.4 M485.4,177.28h-2.4 M68.0,172.65h4.6 M485.4,172.65h-4.6 M68.0,158.27h2.4 M485.4,158.27h-2.4 M68.0,139.25h2.4 M485.4,139.25h-2.4 M68.0,129.50h2.4 M485.4,129.50h-2.4 M68.0,124.87h4.6 M485.4,124.87h-4.6 M68.0,110.48h2.4 M485.4,110.48h-2.4 M68.0,91.47h2.4 M485.4,91.47h-2.4 M68.0,81.71h2.4 M485.4,81.71h-2.4 M68.0,77.08h4.6 M485.4,77.08h-4.6 M68.0,62.70h2.4 M485.4,62.70h-2.4 M68.0,43.68h2.4 M485.4,43.68h-2.4 M68.0,33.93h2.4 M485.4,33.93h-2.4 M68.0,29.30h4.6 M485.4,29.30h-4.6 M110.17,316.0v-2.4 M110.17,29.3v2.4 M140.10,316.0v-2.4 M140.10,29.3v2.4 M163.31,316.0v-2.4 M163.31,29.3v2.4 M182.27,316.0v-2.4 M182.27,29.3v2.4 M198.30,316.0v-2.4 M198.30,29.3v2.4 M212.19,316.0v-2.4 M212.19,29.3v2.4 M224.44,316.0v-2.4 M224.44,29.3v2.4 M235.40,316.0v-4.6 M235.40,29.3v4.6 M307.50,316.0v-2.4 M307.50,29.3v2.4 M349.67,316.0v-2.4 M349.67,29.3v2.4 M379.60,316.0v-2.4 M379.60,29.3v2.4 M402.81,316.0v-2.4 M402.81,29.3v2.4 M421.77,316.0v-2.4 M421.77,29.3v2.4 M437.80,316.0v-2.4 M437.80,29.3v2.4 M451.69,316.0v-2.4 M451.69,29.3v2.4 M463.94,316.0v-2.4 M463.94,29.3v2.4 M474.90,316.0v-4.6 M474.90,29.3v4.6 M484.82,316.0v-2.4 M484.82,29.3v2.4" stroke="#000" stroke-width="1" fill="none"/>
<rect x="68.0" y="29.3" width="417.4" height="286.7" fill="none" stroke="#000" stroke-width="1.15"/>
<text x="37.3" y="321.6" class="t13">10<tspan dy="-7" font-size="10">-7</tspan></text>
<text x="37.3" y="273.8" class="t13">10<tspan dy="-7" font-size="10">-6</tspan></text>
<text x="37.3" y="226.0" class="t13">10<tspan dy="-7" font-size="10">-5</tspan></text>
<text x="37.3" y="178.2" class="t13">10<tspan dy="-7" font-size="10">-4</tspan></text>
<text x="37.3" y="130.5" class="t13">10<tspan dy="-7" font-size="10">-3</tspan></text>
<text x="37.3" y="82.7" class="t13">10<tspan dy="-7" font-size="10">-2</tspan></text>
<text x="37.3" y="34.9" class="t13">10<tspan dy="-7" font-size="10">-1</tspan></text>
<text x="229.9" y="330.4" class="t13">10</text>
<text x="466.1" y="330.5" class="t13">100</text>
<path d="M79.8,234.9H107.4" stroke="#f00" stroke-width="2" fill="none"/>
<text x="113.6" y="239.4" class="t13"><tspan class="sy">ξ</tspan><tspan x="120.1">=0</tspan></text>
<path d="M79.8,256.8H107.4" stroke="#0f0" stroke-width="2" stroke-dasharray="2.4 1.8" fill="none"/>
<text x="113.6" y="261.3" class="t13"><tspan class="sy">ξ</tspan><tspan x="120.1">=0.0002</tspan></text>
<path d="M79.8,278.6H107.4" stroke="#00f" stroke-width="2" stroke-dasharray="1.7 1.8" fill="none"/>
<text x="113.6" y="283.1" class="t13"><tspan class="sy">ξ</tspan><tspan x="120.1">=0.0003</tspan></text>
<path d="M79.8,300.5H107.4" stroke="#f0f" stroke-width="2" stroke-dasharray="1.15 0.95" fill="none"/>
<text x="113.6" y="305.0" class="t13"><tspan class="sy">ξ</tspan><tspan x="120.1">=0.0004</tspan></text>
<text x="237.4" y="18.6" font-size="20.5">N<tspan dy="5.8" font-size="17">DW</tspan><tspan dy="-5.8"> = 3</tspan></text>
<text transform="translate(24.6,172.6) rotate(-90) scale(1.105,1)" text-anchor="middle" font-size="15.8">Area / Volume</text>
<path d="M271.9,343.7 C272.3,341.5 273.4,339.1 275.8,339 L281.8,339 L281.8,341.7 L278.3,341.7 L278.3,346.2 C278.3,348 278.8,349.1 279.8,349.1 C280.4,349.1 280.8,348.5 281,347.5 L281.7,347.7 C281.5,349.8 280.4,351.2 278.8,351.2 C276.8,351.2 275.7,349.6 275.7,346.6 L276.1,341.7 C274.4,341.7 273.3,342.1 272.7,344 Z" fill="#000"/>
</svg>
</body></html>
